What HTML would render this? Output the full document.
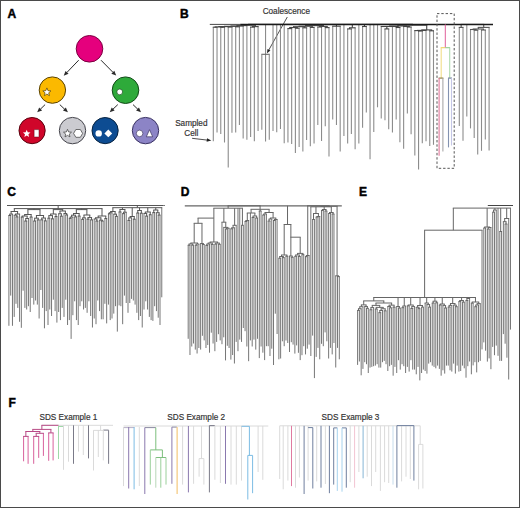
<!DOCTYPE html>
<html><head><meta charset="utf-8"><style>
html,body{margin:0;padding:0;background:#fff;}
body{width:520px;height:508px;overflow:hidden;}
svg{display:block;font-family:"Liberation Sans",sans-serif;}
</style></head><body>
<svg width="520" height="508" viewBox="0 0 520 508">
<rect x="0" y="0" width="520" height="508" fill="#fff"/>
<text x="7.5" y="17.5" font-size="12.0" font-weight="bold" text-anchor="start" fill="#000" stroke="#000" stroke-width="0.45">A</text>
<text x="179.9" y="17.5" font-size="12.0" font-weight="bold" text-anchor="start" fill="#000" stroke="#000" stroke-width="0.45">B</text>
<text x="7.3" y="196.4" font-size="12.0" font-weight="bold" text-anchor="start" fill="#000" stroke="#000" stroke-width="0.45">C</text>
<text x="180.7" y="196.4" font-size="12.0" font-weight="bold" text-anchor="start" fill="#000" stroke="#000" stroke-width="0.45">D</text>
<text x="358.9" y="196.4" font-size="12.0" font-weight="bold" text-anchor="start" fill="#000" stroke="#000" stroke-width="0.45">E</text>
<text x="8.5" y="407.2" font-size="12.0" font-weight="bold" text-anchor="start" fill="#000" stroke="#000" stroke-width="0.45">F</text>
<circle cx="89.5" cy="48.8" r="13.3" fill="#e5007d" stroke="#7a0040" stroke-width="1.0"/>
<circle cx="52.4" cy="90.1" r="13.2" fill="#fbb900" stroke="#5a4200" stroke-width="1.0"/>
<circle cx="125.5" cy="90.2" r="13.3" fill="#2eaa3a" stroke="#124a18" stroke-width="1.0"/>
<circle cx="32.1" cy="130.6" r="13.1" fill="#d0062a" stroke="#5a000c" stroke-width="1.0"/>
<circle cx="72.5" cy="130.6" r="13.2" fill="#cbcbd0" stroke="#45454c" stroke-width="1.0"/>
<circle cx="105.1" cy="130.6" r="13.1" fill="#0d4c92" stroke="#06223f" stroke-width="1.0"/>
<circle cx="145.5" cy="130.6" r="13.2" fill="#8c84c6" stroke="#3a3262" stroke-width="1.0"/>
<line x1="78.70" y1="60.20" x2="66.68" y2="72.70" stroke="#2a2a2a" stroke-width="1.0"/>
<polygon points="63.70,75.80 65.51,70.88 68.54,73.80" fill="#2a2a2a"/>
<line x1="101.00" y1="60.20" x2="113.18" y2="72.54" stroke="#2a2a2a" stroke-width="1.0"/>
<polygon points="116.20,75.60 111.33,73.66 114.32,70.71" fill="#2a2a2a"/>
<line x1="45.10" y1="104.60" x2="40.28" y2="109.30" stroke="#2a2a2a" stroke-width="1.0"/>
<polygon points="37.20,112.30 39.17,107.45 42.10,110.45" fill="#2a2a2a"/>
<line x1="59.80" y1="104.60" x2="64.78" y2="109.34" stroke="#2a2a2a" stroke-width="1.0"/>
<polygon points="67.90,112.30 62.97,110.51 65.87,107.47" fill="#2a2a2a"/>
<line x1="117.80" y1="104.60" x2="112.82" y2="109.34" stroke="#2a2a2a" stroke-width="1.0"/>
<polygon points="109.70,112.30 111.73,107.47 114.63,110.51" fill="#2a2a2a"/>
<line x1="133.00" y1="104.60" x2="137.90" y2="109.32" stroke="#2a2a2a" stroke-width="1.0"/>
<polygon points="141.00,112.30 136.09,110.48 139.00,107.46" fill="#2a2a2a"/>
<polygon points="46.90,87.90 48.02,90.66 50.99,90.87 48.71,92.79 49.43,95.68 46.90,94.10 44.37,95.68 45.09,92.79 42.81,90.87 45.78,90.66" fill="#fff" stroke="#5a4400" stroke-width="0.7" stroke-linejoin="round"/>
<circle cx="119.7" cy="91.9" r="2.9" fill="#fff" stroke="#124a18" stroke-width="0.7"/>
<polygon points="26.70,129.80 27.76,132.34 30.50,132.56 28.41,134.36 29.05,137.04 26.70,135.60 24.35,137.04 24.99,134.36 22.90,132.56 25.64,132.34" fill="#fff" stroke="none" stroke-width="0.7" stroke-linejoin="round"/>
<rect x="34.1" y="129.6" width="4.9" height="7.4" rx="0.6" fill="#fff" stroke="#5a0010" stroke-width="0.5"/>
<polygon points="67.50,129.30 68.62,131.96 71.49,132.20 69.31,134.09 69.97,136.90 67.50,135.40 65.03,136.90 65.69,134.09 63.51,132.20 66.38,131.96" fill="#fff" stroke="#444" stroke-width="0.75" stroke-linejoin="round"/>
<polygon points="82.60,133.40 80.35,137.30 75.85,137.30 73.60,133.40 75.85,129.50 80.35,129.50" fill="#fff" stroke="#444" stroke-width="0.75"/>
<circle cx="98.7" cy="133.4" r="3.2" fill="#fff" stroke="none" stroke-width="0"/>
<polygon points="108.3,129.5 112.2,133.4 108.3,137.3 104.4,133.4" fill="#fff"/>
<circle cx="139.6" cy="133.4" r="3.3" fill="#fff" stroke="#3a3260" stroke-width="0.7"/>
<polygon points="149.5,129.7 152.7,136.8 146.3,136.8" fill="#fff" stroke="#3a3260" stroke-width="0.7" stroke-linejoin="round"/>
<text x="286.3" y="14.1" font-size="8.2" font-weight="normal" text-anchor="middle" fill="#333" stroke="#333" stroke-width="0.18">Coalescence</text>
<text x="191.3" y="125.6" font-size="8.2" font-weight="normal" text-anchor="middle" fill="#333" stroke="#333" stroke-width="0.18">Sampled</text>
<text x="191.3" y="135.6" font-size="8.2" font-weight="normal" text-anchor="middle" fill="#333" stroke="#333" stroke-width="0.18">Cell</text>
<line x1="287.30" y1="17.00" x2="268.71" y2="50.15" stroke="#222" stroke-width="0.8"/>
<polygon points="267.00,53.20 267.47,48.88 270.44,50.54" fill="#222"/>
<line x1="192.10" y1="138.30" x2="207.33" y2="140.12" stroke="#222" stroke-width="0.8"/>
<polygon points="211.30,140.60 206.62,141.85 207.05,138.28" fill="#222"/>
<text x="68.4" y="420.4" font-size="8.2" font-weight="normal" text-anchor="middle" fill="#333" stroke="#333" stroke-width="0.18">SDS Example 1</text>
<text x="196.2" y="420.4" font-size="8.2" font-weight="normal" text-anchor="middle" fill="#333" stroke="#333" stroke-width="0.18">SDS Example 2</text>
<text x="350.5" y="420.4" font-size="8.2" font-weight="normal" text-anchor="middle" fill="#333" stroke="#333" stroke-width="0.18">SDS Example 3</text>
<line x1="213.30" y1="27.20" x2="213.30" y2="141.20" stroke="#8c8c8c" stroke-width="1.1"/>
<line x1="217.03" y1="27.20" x2="217.03" y2="132.50" stroke="#8c8c8c" stroke-width="1.1"/>
<line x1="212.75" y1="27.20" x2="217.58" y2="27.20" stroke="#444" stroke-width="1.1"/>
<line x1="215.17" y1="26.90" x2="215.17" y2="27.20" stroke="#444" stroke-width="1.1"/>
<line x1="220.76" y1="27.20" x2="220.76" y2="134.10" stroke="#8c8c8c" stroke-width="1.1"/>
<line x1="224.50" y1="27.20" x2="224.50" y2="142.50" stroke="#8c8c8c" stroke-width="1.1"/>
<line x1="220.21" y1="27.20" x2="225.05" y2="27.20" stroke="#444" stroke-width="1.1"/>
<line x1="222.63" y1="26.90" x2="222.63" y2="27.20" stroke="#444" stroke-width="1.1"/>
<line x1="214.62" y1="26.90" x2="223.18" y2="26.90" stroke="#444" stroke-width="1.1"/>
<line x1="218.90" y1="26.60" x2="218.90" y2="26.90" stroke="#444" stroke-width="1.1"/>
<line x1="228.23" y1="27.00" x2="228.23" y2="167.60" stroke="#8c8c8c" stroke-width="1.1"/>
<line x1="231.96" y1="27.00" x2="231.96" y2="132.70" stroke="#8c8c8c" stroke-width="1.1"/>
<line x1="227.68" y1="27.00" x2="232.51" y2="27.00" stroke="#444" stroke-width="1.1"/>
<line x1="230.09" y1="26.60" x2="230.09" y2="27.00" stroke="#444" stroke-width="1.1"/>
<line x1="218.35" y1="26.60" x2="230.64" y2="26.60" stroke="#444" stroke-width="1.1"/>
<line x1="224.50" y1="26.30" x2="224.50" y2="26.60" stroke="#444" stroke-width="1.1"/>
<line x1="235.69" y1="26.80" x2="235.69" y2="132.50" stroke="#8c8c8c" stroke-width="1.1"/>
<line x1="239.42" y1="26.80" x2="239.42" y2="124.90" stroke="#8c8c8c" stroke-width="1.1"/>
<line x1="235.14" y1="26.80" x2="239.97" y2="26.80" stroke="#444" stroke-width="1.1"/>
<line x1="237.56" y1="26.30" x2="237.56" y2="26.80" stroke="#444" stroke-width="1.1"/>
<line x1="223.95" y1="26.30" x2="238.11" y2="26.30" stroke="#444" stroke-width="1.1"/>
<line x1="231.03" y1="26.00" x2="231.03" y2="26.30" stroke="#444" stroke-width="1.1"/>
<line x1="243.16" y1="26.00" x2="243.16" y2="138.40" stroke="#8c8c8c" stroke-width="1.1"/>
<line x1="230.48" y1="26.00" x2="243.71" y2="26.00" stroke="#444" stroke-width="1.1"/>
<line x1="237.09" y1="25.60" x2="237.09" y2="26.00" stroke="#444" stroke-width="1.1"/>
<line x1="246.89" y1="25.60" x2="246.89" y2="139.70" stroke="#8c8c8c" stroke-width="1.1"/>
<line x1="236.54" y1="25.60" x2="247.44" y2="25.60" stroke="#444" stroke-width="1.1"/>
<line x1="241.99" y1="25.20" x2="241.99" y2="25.60" stroke="#444" stroke-width="1.1"/>
<line x1="250.62" y1="27.10" x2="250.62" y2="136.90" stroke="#8c8c8c" stroke-width="1.1"/>
<line x1="254.35" y1="27.10" x2="254.35" y2="141.30" stroke="#8c8c8c" stroke-width="1.1"/>
<line x1="250.07" y1="27.10" x2="254.90" y2="27.10" stroke="#444" stroke-width="1.1"/>
<line x1="252.49" y1="26.60" x2="252.49" y2="27.10" stroke="#444" stroke-width="1.1"/>
<line x1="258.08" y1="26.60" x2="258.08" y2="131.00" stroke="#8c8c8c" stroke-width="1.1"/>
<line x1="251.94" y1="26.60" x2="258.63" y2="26.60" stroke="#444" stroke-width="1.1"/>
<line x1="255.28" y1="25.20" x2="255.28" y2="26.60" stroke="#444" stroke-width="1.1"/>
<line x1="241.44" y1="25.20" x2="255.84" y2="25.20" stroke="#444" stroke-width="1.1"/>
<line x1="248.64" y1="24.40" x2="248.64" y2="25.20" stroke="#444" stroke-width="1.1"/>
<line x1="265.55" y1="24.40" x2="265.55" y2="141.60" stroke="#8c8c8c" stroke-width="1.1"/>
<line x1="273.01" y1="24.40" x2="273.01" y2="131.00" stroke="#8c8c8c" stroke-width="1.1"/>
<line x1="276.74" y1="24.40" x2="276.74" y2="132.20" stroke="#8c8c8c" stroke-width="1.1"/>
<line x1="280.48" y1="24.40" x2="280.48" y2="129.00" stroke="#8c8c8c" stroke-width="1.1"/>
<line x1="284.21" y1="24.40" x2="284.21" y2="143.30" stroke="#8c8c8c" stroke-width="1.1"/>
<line x1="287.94" y1="28.60" x2="287.94" y2="142.40" stroke="#8c8c8c" stroke-width="1.1"/>
<line x1="291.67" y1="28.60" x2="291.67" y2="144.00" stroke="#8c8c8c" stroke-width="1.1"/>
<line x1="287.39" y1="28.60" x2="292.22" y2="28.60" stroke="#444" stroke-width="1.1"/>
<line x1="289.81" y1="27.50" x2="289.81" y2="28.60" stroke="#444" stroke-width="1.1"/>
<line x1="295.40" y1="28.20" x2="295.40" y2="153.00" stroke="#8c8c8c" stroke-width="1.1"/>
<line x1="299.14" y1="28.20" x2="299.14" y2="146.90" stroke="#8c8c8c" stroke-width="1.1"/>
<line x1="294.85" y1="28.20" x2="299.69" y2="28.20" stroke="#444" stroke-width="1.1"/>
<line x1="297.27" y1="27.50" x2="297.27" y2="28.20" stroke="#444" stroke-width="1.1"/>
<line x1="289.26" y1="27.50" x2="297.82" y2="27.50" stroke="#444" stroke-width="1.1"/>
<line x1="293.54" y1="26.70" x2="293.54" y2="27.50" stroke="#444" stroke-width="1.1"/>
<line x1="302.87" y1="27.80" x2="302.87" y2="151.40" stroke="#8c8c8c" stroke-width="1.1"/>
<line x1="306.60" y1="27.80" x2="306.60" y2="140.00" stroke="#8c8c8c" stroke-width="1.1"/>
<line x1="302.32" y1="27.80" x2="307.15" y2="27.80" stroke="#444" stroke-width="1.1"/>
<line x1="304.73" y1="26.70" x2="304.73" y2="27.80" stroke="#444" stroke-width="1.1"/>
<line x1="292.99" y1="26.70" x2="305.28" y2="26.70" stroke="#444" stroke-width="1.1"/>
<line x1="299.14" y1="26.20" x2="299.14" y2="26.70" stroke="#444" stroke-width="1.1"/>
<line x1="310.33" y1="27.40" x2="310.33" y2="146.30" stroke="#8c8c8c" stroke-width="1.1"/>
<line x1="314.06" y1="27.40" x2="314.06" y2="143.40" stroke="#8c8c8c" stroke-width="1.1"/>
<line x1="309.78" y1="27.40" x2="314.61" y2="27.40" stroke="#444" stroke-width="1.1"/>
<line x1="312.20" y1="26.20" x2="312.20" y2="27.40" stroke="#444" stroke-width="1.1"/>
<line x1="298.59" y1="26.20" x2="312.75" y2="26.20" stroke="#444" stroke-width="1.1"/>
<line x1="305.67" y1="25.60" x2="305.67" y2="26.20" stroke="#444" stroke-width="1.1"/>
<line x1="317.80" y1="27.00" x2="317.80" y2="125.00" stroke="#8c8c8c" stroke-width="1.1"/>
<line x1="321.53" y1="27.00" x2="321.53" y2="141.00" stroke="#8c8c8c" stroke-width="1.1"/>
<line x1="317.25" y1="27.00" x2="322.08" y2="27.00" stroke="#444" stroke-width="1.1"/>
<line x1="319.66" y1="26.40" x2="319.66" y2="27.00" stroke="#444" stroke-width="1.1"/>
<line x1="325.26" y1="27.60" x2="325.26" y2="126.20" stroke="#8c8c8c" stroke-width="1.1"/>
<line x1="328.99" y1="27.60" x2="328.99" y2="156.60" stroke="#8c8c8c" stroke-width="1.1"/>
<line x1="324.71" y1="27.60" x2="329.54" y2="27.60" stroke="#444" stroke-width="1.1"/>
<line x1="327.13" y1="26.40" x2="327.13" y2="27.60" stroke="#444" stroke-width="1.1"/>
<line x1="319.11" y1="26.40" x2="327.68" y2="26.40" stroke="#444" stroke-width="1.1"/>
<line x1="323.39" y1="25.60" x2="323.39" y2="26.40" stroke="#444" stroke-width="1.1"/>
<line x1="305.12" y1="25.60" x2="323.94" y2="25.60" stroke="#444" stroke-width="1.1"/>
<line x1="314.53" y1="24.40" x2="314.53" y2="25.60" stroke="#444" stroke-width="1.1"/>
<line x1="332.72" y1="26.20" x2="332.72" y2="119.50" stroke="#8c8c8c" stroke-width="1.1"/>
<line x1="336.46" y1="26.20" x2="336.46" y2="125.00" stroke="#8c8c8c" stroke-width="1.1"/>
<line x1="340.19" y1="26.20" x2="340.19" y2="151.40" stroke="#8c8c8c" stroke-width="1.1"/>
<line x1="332.17" y1="26.20" x2="340.74" y2="26.20" stroke="#444" stroke-width="1.1"/>
<line x1="336.46" y1="24.40" x2="336.46" y2="26.20" stroke="#444" stroke-width="1.1"/>
<line x1="343.92" y1="24.40" x2="343.92" y2="136.00" stroke="#8c8c8c" stroke-width="1.1"/>
<line x1="347.65" y1="28.90" x2="347.65" y2="143.40" stroke="#8c8c8c" stroke-width="1.1"/>
<line x1="351.38" y1="28.90" x2="351.38" y2="134.10" stroke="#8c8c8c" stroke-width="1.1"/>
<line x1="347.10" y1="28.90" x2="351.93" y2="28.90" stroke="#444" stroke-width="1.1"/>
<line x1="349.52" y1="27.80" x2="349.52" y2="28.90" stroke="#444" stroke-width="1.1"/>
<line x1="355.12" y1="27.80" x2="355.12" y2="149.30" stroke="#8c8c8c" stroke-width="1.1"/>
<line x1="348.97" y1="27.80" x2="355.67" y2="27.80" stroke="#444" stroke-width="1.1"/>
<line x1="352.32" y1="24.40" x2="352.32" y2="27.80" stroke="#444" stroke-width="1.1"/>
<line x1="358.85" y1="24.40" x2="358.85" y2="143.60" stroke="#8c8c8c" stroke-width="1.1"/>
<line x1="362.58" y1="26.50" x2="362.58" y2="127.80" stroke="#8c8c8c" stroke-width="1.1"/>
<line x1="366.31" y1="26.50" x2="366.31" y2="112.60" stroke="#8c8c8c" stroke-width="1.1"/>
<line x1="362.03" y1="26.50" x2="366.86" y2="26.50" stroke="#444" stroke-width="1.1"/>
<line x1="364.45" y1="24.40" x2="364.45" y2="26.50" stroke="#444" stroke-width="1.1"/>
<line x1="370.04" y1="24.40" x2="370.04" y2="159.30" stroke="#8c8c8c" stroke-width="1.1"/>
<line x1="373.78" y1="24.40" x2="373.78" y2="132.10" stroke="#8c8c8c" stroke-width="1.1"/>
<line x1="377.51" y1="24.40" x2="377.51" y2="107.30" stroke="#8c8c8c" stroke-width="1.1"/>
<line x1="381.24" y1="26.50" x2="381.24" y2="118.50" stroke="#8c8c8c" stroke-width="1.1"/>
<line x1="384.97" y1="28.90" x2="384.97" y2="120.30" stroke="#8c8c8c" stroke-width="1.1"/>
<line x1="388.70" y1="28.90" x2="388.70" y2="129.20" stroke="#8c8c8c" stroke-width="1.1"/>
<line x1="384.42" y1="28.90" x2="389.25" y2="28.90" stroke="#444" stroke-width="1.1"/>
<line x1="386.84" y1="26.50" x2="386.84" y2="28.90" stroke="#444" stroke-width="1.1"/>
<line x1="392.44" y1="26.50" x2="392.44" y2="132.60" stroke="#8c8c8c" stroke-width="1.1"/>
<line x1="396.17" y1="27.50" x2="396.17" y2="119.50" stroke="#8c8c8c" stroke-width="1.1"/>
<line x1="399.90" y1="27.50" x2="399.90" y2="142.30" stroke="#8c8c8c" stroke-width="1.1"/>
<line x1="395.62" y1="27.50" x2="400.45" y2="27.50" stroke="#444" stroke-width="1.1"/>
<line x1="398.03" y1="26.50" x2="398.03" y2="27.50" stroke="#444" stroke-width="1.1"/>
<line x1="380.69" y1="26.50" x2="398.58" y2="26.50" stroke="#444" stroke-width="1.1"/>
<line x1="389.64" y1="26.00" x2="389.64" y2="26.50" stroke="#444" stroke-width="1.1"/>
<line x1="403.63" y1="26.50" x2="403.63" y2="148.70" stroke="#8c8c8c" stroke-width="1.1"/>
<line x1="407.36" y1="27.00" x2="407.36" y2="113.60" stroke="#8c8c8c" stroke-width="1.1"/>
<line x1="411.10" y1="27.00" x2="411.10" y2="134.30" stroke="#8c8c8c" stroke-width="1.1"/>
<line x1="406.81" y1="27.00" x2="411.65" y2="27.00" stroke="#444" stroke-width="1.1"/>
<line x1="409.23" y1="26.50" x2="409.23" y2="27.00" stroke="#444" stroke-width="1.1"/>
<line x1="403.08" y1="26.50" x2="409.78" y2="26.50" stroke="#444" stroke-width="1.1"/>
<line x1="406.43" y1="26.00" x2="406.43" y2="26.50" stroke="#444" stroke-width="1.1"/>
<line x1="389.09" y1="26.00" x2="406.98" y2="26.00" stroke="#444" stroke-width="1.1"/>
<line x1="398.03" y1="25.20" x2="398.03" y2="26.00" stroke="#444" stroke-width="1.1"/>
<line x1="414.83" y1="30.60" x2="414.83" y2="155.60" stroke="#8c8c8c" stroke-width="1.1"/>
<line x1="418.56" y1="31.00" x2="418.56" y2="169.40" stroke="#8c8c8c" stroke-width="1.1"/>
<line x1="422.29" y1="31.00" x2="422.29" y2="143.20" stroke="#8c8c8c" stroke-width="1.1"/>
<line x1="418.01" y1="31.00" x2="422.84" y2="31.00" stroke="#444" stroke-width="1.1"/>
<line x1="420.43" y1="30.60" x2="420.43" y2="31.00" stroke="#444" stroke-width="1.1"/>
<line x1="414.28" y1="30.60" x2="420.98" y2="30.60" stroke="#444" stroke-width="1.1"/>
<line x1="417.63" y1="30.40" x2="417.63" y2="30.60" stroke="#444" stroke-width="1.1"/>
<line x1="426.02" y1="30.40" x2="426.02" y2="141.30" stroke="#8c8c8c" stroke-width="1.1"/>
<line x1="417.08" y1="30.40" x2="426.57" y2="30.40" stroke="#444" stroke-width="1.1"/>
<line x1="421.83" y1="29.90" x2="421.83" y2="30.40" stroke="#444" stroke-width="1.1"/>
<line x1="429.76" y1="30.80" x2="429.76" y2="146.00" stroke="#8c8c8c" stroke-width="1.1"/>
<line x1="433.49" y1="30.80" x2="433.49" y2="144.80" stroke="#8c8c8c" stroke-width="1.1"/>
<line x1="429.21" y1="30.80" x2="434.04" y2="30.80" stroke="#444" stroke-width="1.1"/>
<line x1="431.62" y1="29.90" x2="431.62" y2="30.80" stroke="#444" stroke-width="1.1"/>
<line x1="421.28" y1="29.90" x2="432.17" y2="29.90" stroke="#444" stroke-width="1.1"/>
<line x1="426.72" y1="25.20" x2="426.72" y2="29.90" stroke="#444" stroke-width="1.1"/>
<line x1="397.48" y1="25.20" x2="427.27" y2="25.20" stroke="#444" stroke-width="1.1"/>
<line x1="412.38" y1="24.40" x2="412.38" y2="25.20" stroke="#444" stroke-width="1.1"/>
<line x1="248.09" y1="24.40" x2="412.93" y2="24.40" stroke="#444" stroke-width="1.1"/>
<line x1="261.32" y1="54.30" x2="269.78" y2="54.30" stroke="#666" stroke-width="1.1"/>
<line x1="261.82" y1="54.30" x2="261.82" y2="129.80" stroke="#8c8c8c" stroke-width="1.1"/>
<line x1="269.28" y1="54.30" x2="269.28" y2="139.80" stroke="#8c8c8c" stroke-width="1.1"/>
<line x1="459.30" y1="27.40" x2="459.30" y2="126.00" stroke="#8c8c8c" stroke-width="1.1"/>
<line x1="463.00" y1="27.40" x2="463.00" y2="140.80" stroke="#8c8c8c" stroke-width="1.1"/>
<line x1="458.75" y1="27.40" x2="463.55" y2="27.40" stroke="#555" stroke-width="1.1"/>
<line x1="461.15" y1="24.40" x2="461.15" y2="27.40" stroke="#555" stroke-width="1.1"/>
<line x1="466.80" y1="24.40" x2="466.80" y2="116.50" stroke="#8c8c8c" stroke-width="1.1"/>
<line x1="470.50" y1="29.50" x2="470.50" y2="128.40" stroke="#8c8c8c" stroke-width="1.1"/>
<line x1="474.20" y1="30.20" x2="474.20" y2="138.10" stroke="#8c8c8c" stroke-width="1.1"/>
<line x1="477.70" y1="30.20" x2="477.70" y2="154.60" stroke="#8c8c8c" stroke-width="1.1"/>
<line x1="473.65" y1="30.20" x2="478.25" y2="30.20" stroke="#555" stroke-width="1.1"/>
<line x1="475.95" y1="29.50" x2="475.95" y2="30.20" stroke="#555" stroke-width="1.1"/>
<line x1="469.95" y1="29.50" x2="476.50" y2="29.50" stroke="#555" stroke-width="1.1"/>
<line x1="473.23" y1="29.00" x2="473.23" y2="29.50" stroke="#555" stroke-width="1.1"/>
<line x1="481.50" y1="30.00" x2="481.50" y2="150.80" stroke="#8c8c8c" stroke-width="1.1"/>
<line x1="485.30" y1="30.00" x2="485.30" y2="139.60" stroke="#8c8c8c" stroke-width="1.1"/>
<line x1="480.95" y1="30.00" x2="485.85" y2="30.00" stroke="#555" stroke-width="1.1"/>
<line x1="483.40" y1="29.00" x2="483.40" y2="30.00" stroke="#555" stroke-width="1.1"/>
<line x1="472.68" y1="29.00" x2="483.95" y2="29.00" stroke="#555" stroke-width="1.1"/>
<line x1="478.31" y1="27.40" x2="478.31" y2="29.00" stroke="#555" stroke-width="1.1"/>
<line x1="489.10" y1="27.40" x2="489.10" y2="150.60" stroke="#8c8c8c" stroke-width="1.1"/>
<line x1="477.76" y1="27.40" x2="489.65" y2="27.40" stroke="#555" stroke-width="1.1"/>
<line x1="483.71" y1="24.40" x2="483.71" y2="27.40" stroke="#555" stroke-width="1.1"/>
<line x1="460.60" y1="24.40" x2="484.26" y2="24.40" stroke="#555" stroke-width="1.1"/>
<line x1="209.80" y1="24.40" x2="241.00" y2="24.40" stroke="#333" stroke-width="0.9"/>
<line x1="240.50" y1="24.50" x2="493.00" y2="24.50" stroke="#1a1a1a" stroke-width="1.4"/>
<line x1="445.30" y1="24.40" x2="445.30" y2="47.70" stroke="#e0609a" stroke-width="1.0"/>
<line x1="440.70" y1="47.70" x2="445.30" y2="47.70" stroke="#f0d060" stroke-width="1.1"/>
<line x1="445.30" y1="47.70" x2="450.10" y2="47.70" stroke="#90cc90" stroke-width="1.1"/>
<line x1="441.20" y1="47.70" x2="441.20" y2="78.10" stroke="#f2de88" stroke-width="1.1"/>
<line x1="449.70" y1="47.70" x2="449.70" y2="78.10" stroke="#b0dcb0" stroke-width="1.1"/>
<line x1="438.60" y1="78.10" x2="443.40" y2="78.10" stroke="#8a7a40" stroke-width="1.1"/>
<line x1="448.00" y1="78.10" x2="452.00" y2="78.10" stroke="#6a7a90" stroke-width="1.1"/>
<line x1="439.10" y1="78.10" x2="439.10" y2="155.80" stroke="#e0789a" stroke-width="1.1"/>
<line x1="442.90" y1="78.10" x2="442.90" y2="151.40" stroke="#a8a8a8" stroke-width="1.1"/>
<line x1="448.50" y1="78.10" x2="448.50" y2="147.40" stroke="#8392b0" stroke-width="1.1"/>
<line x1="451.50" y1="78.10" x2="451.50" y2="145.50" stroke="#c4c6e6" stroke-width="1.1"/>
<rect x="437.0" y="13.6" width="17.2" height="154.7" fill="none" stroke="#555" stroke-width="1" stroke-dasharray="2.4 1.9"/>
<line x1="7.00" y1="205.50" x2="163.50" y2="205.50" stroke="#555" stroke-width="1.0"/>
<line x1="163.50" y1="205.50" x2="164.80" y2="205.50" stroke="#555" stroke-width="1.0"/>
<line x1="8.90" y1="215.49" x2="8.90" y2="325.80" stroke="#767676" stroke-width="1.0"/>
<line x1="10.68" y1="215.49" x2="10.68" y2="295.60" stroke="#767676" stroke-width="1.0"/>
<line x1="8.40" y1="215.49" x2="11.18" y2="215.49" stroke="#555" stroke-width="1.0"/>
<line x1="9.79" y1="214.07" x2="9.79" y2="215.49" stroke="#555" stroke-width="1.0"/>
<line x1="12.46" y1="214.07" x2="12.46" y2="325.80" stroke="#767676" stroke-width="1.0"/>
<line x1="9.29" y1="214.07" x2="12.96" y2="214.07" stroke="#555" stroke-width="1.0"/>
<line x1="11.12" y1="211.50" x2="11.12" y2="214.07" stroke="#555" stroke-width="1.0"/>
<line x1="14.23" y1="215.15" x2="14.23" y2="316.90" stroke="#767676" stroke-width="1.0"/>
<line x1="16.01" y1="216.86" x2="16.01" y2="303.80" stroke="#767676" stroke-width="1.0"/>
<line x1="17.79" y1="216.86" x2="17.79" y2="307.90" stroke="#767676" stroke-width="1.0"/>
<line x1="15.51" y1="216.86" x2="18.29" y2="216.86" stroke="#555" stroke-width="1.0"/>
<line x1="16.90" y1="215.15" x2="16.90" y2="216.86" stroke="#555" stroke-width="1.0"/>
<line x1="13.73" y1="215.15" x2="17.40" y2="215.15" stroke="#555" stroke-width="1.0"/>
<line x1="15.57" y1="214.01" x2="15.57" y2="215.15" stroke="#555" stroke-width="1.0"/>
<line x1="19.57" y1="214.01" x2="19.57" y2="321.80" stroke="#767676" stroke-width="1.0"/>
<line x1="15.07" y1="214.01" x2="20.07" y2="214.01" stroke="#555" stroke-width="1.0"/>
<line x1="17.57" y1="211.50" x2="17.57" y2="214.01" stroke="#555" stroke-width="1.0"/>
<line x1="10.62" y1="211.50" x2="18.07" y2="211.50" stroke="#555" stroke-width="1.0"/>
<line x1="14.34" y1="208.60" x2="14.34" y2="211.50" stroke="#555" stroke-width="1.0"/>
<line x1="21.34" y1="217.09" x2="21.34" y2="327.80" stroke="#767676" stroke-width="1.0"/>
<line x1="23.12" y1="217.09" x2="23.12" y2="290.70" stroke="#767676" stroke-width="1.0"/>
<line x1="20.84" y1="217.09" x2="23.62" y2="217.09" stroke="#555" stroke-width="1.0"/>
<line x1="22.23" y1="216.02" x2="22.23" y2="217.09" stroke="#555" stroke-width="1.0"/>
<line x1="24.90" y1="221.00" x2="24.90" y2="307.90" stroke="#767676" stroke-width="1.0"/>
<line x1="26.68" y1="221.00" x2="26.68" y2="309.50" stroke="#767676" stroke-width="1.0"/>
<line x1="24.40" y1="221.00" x2="27.18" y2="221.00" stroke="#555" stroke-width="1.0"/>
<line x1="25.79" y1="218.53" x2="25.79" y2="221.00" stroke="#555" stroke-width="1.0"/>
<line x1="28.45" y1="218.53" x2="28.45" y2="306.20" stroke="#767676" stroke-width="1.0"/>
<line x1="25.29" y1="218.53" x2="28.95" y2="218.53" stroke="#555" stroke-width="1.0"/>
<line x1="27.12" y1="216.02" x2="27.12" y2="218.53" stroke="#555" stroke-width="1.0"/>
<line x1="21.73" y1="216.02" x2="27.62" y2="216.02" stroke="#555" stroke-width="1.0"/>
<line x1="24.68" y1="214.50" x2="24.68" y2="216.02" stroke="#555" stroke-width="1.0"/>
<line x1="30.23" y1="217.02" x2="30.23" y2="312.00" stroke="#767676" stroke-width="1.0"/>
<line x1="32.01" y1="217.02" x2="32.01" y2="298.00" stroke="#767676" stroke-width="1.0"/>
<line x1="29.73" y1="217.02" x2="32.51" y2="217.02" stroke="#555" stroke-width="1.0"/>
<line x1="31.12" y1="214.50" x2="31.12" y2="217.02" stroke="#555" stroke-width="1.0"/>
<line x1="24.18" y1="214.50" x2="31.62" y2="214.50" stroke="#555" stroke-width="1.0"/>
<line x1="27.90" y1="209.60" x2="27.90" y2="214.50" stroke="#555" stroke-width="1.0"/>
<line x1="33.79" y1="221.00" x2="33.79" y2="304.60" stroke="#767676" stroke-width="1.0"/>
<line x1="35.56" y1="221.00" x2="35.56" y2="300.50" stroke="#767676" stroke-width="1.0"/>
<line x1="33.29" y1="221.00" x2="36.06" y2="221.00" stroke="#555" stroke-width="1.0"/>
<line x1="34.68" y1="218.16" x2="34.68" y2="221.00" stroke="#555" stroke-width="1.0"/>
<line x1="37.34" y1="219.92" x2="37.34" y2="304.60" stroke="#767676" stroke-width="1.0"/>
<line x1="39.12" y1="219.92" x2="39.12" y2="318.50" stroke="#767676" stroke-width="1.0"/>
<line x1="36.84" y1="219.92" x2="39.62" y2="219.92" stroke="#555" stroke-width="1.0"/>
<line x1="38.23" y1="218.16" x2="38.23" y2="219.92" stroke="#555" stroke-width="1.0"/>
<line x1="34.18" y1="218.16" x2="38.73" y2="218.16" stroke="#555" stroke-width="1.0"/>
<line x1="36.45" y1="215.50" x2="36.45" y2="218.16" stroke="#555" stroke-width="1.0"/>
<line x1="40.90" y1="219.82" x2="40.90" y2="290.00" stroke="#767676" stroke-width="1.0"/>
<line x1="42.67" y1="219.82" x2="42.67" y2="307.90" stroke="#767676" stroke-width="1.0"/>
<line x1="40.40" y1="219.82" x2="43.17" y2="219.82" stroke="#555" stroke-width="1.0"/>
<line x1="41.79" y1="218.03" x2="41.79" y2="219.82" stroke="#555" stroke-width="1.0"/>
<line x1="44.45" y1="220.86" x2="44.45" y2="328.30" stroke="#767676" stroke-width="1.0"/>
<line x1="46.23" y1="220.86" x2="46.23" y2="311.10" stroke="#767676" stroke-width="1.0"/>
<line x1="43.95" y1="220.86" x2="46.73" y2="220.86" stroke="#555" stroke-width="1.0"/>
<line x1="45.34" y1="218.03" x2="45.34" y2="220.86" stroke="#555" stroke-width="1.0"/>
<line x1="41.29" y1="218.03" x2="45.84" y2="218.03" stroke="#555" stroke-width="1.0"/>
<line x1="43.56" y1="215.50" x2="43.56" y2="218.03" stroke="#555" stroke-width="1.0"/>
<line x1="35.95" y1="215.50" x2="44.06" y2="215.50" stroke="#555" stroke-width="1.0"/>
<line x1="40.01" y1="209.60" x2="40.01" y2="215.50" stroke="#555" stroke-width="1.0"/>
<line x1="27.40" y1="209.60" x2="40.51" y2="209.60" stroke="#555" stroke-width="1.0"/>
<line x1="33.95" y1="208.60" x2="33.95" y2="209.60" stroke="#555" stroke-width="1.0"/>
<line x1="48.01" y1="218.18" x2="48.01" y2="325.00" stroke="#767676" stroke-width="1.0"/>
<line x1="49.78" y1="218.18" x2="49.78" y2="309.50" stroke="#767676" stroke-width="1.0"/>
<line x1="47.51" y1="218.18" x2="50.28" y2="218.18" stroke="#555" stroke-width="1.0"/>
<line x1="48.90" y1="215.61" x2="48.90" y2="218.18" stroke="#555" stroke-width="1.0"/>
<line x1="51.56" y1="218.80" x2="51.56" y2="316.00" stroke="#767676" stroke-width="1.0"/>
<line x1="53.34" y1="218.80" x2="53.34" y2="299.70" stroke="#767676" stroke-width="1.0"/>
<line x1="51.06" y1="218.80" x2="53.84" y2="218.80" stroke="#555" stroke-width="1.0"/>
<line x1="52.45" y1="215.61" x2="52.45" y2="218.80" stroke="#555" stroke-width="1.0"/>
<line x1="48.40" y1="215.61" x2="52.95" y2="215.61" stroke="#555" stroke-width="1.0"/>
<line x1="50.67" y1="214.00" x2="50.67" y2="215.61" stroke="#555" stroke-width="1.0"/>
<line x1="55.12" y1="216.54" x2="55.12" y2="311.10" stroke="#767676" stroke-width="1.0"/>
<line x1="56.90" y1="216.54" x2="56.90" y2="322.60" stroke="#767676" stroke-width="1.0"/>
<line x1="54.62" y1="216.54" x2="57.40" y2="216.54" stroke="#555" stroke-width="1.0"/>
<line x1="56.01" y1="214.00" x2="56.01" y2="216.54" stroke="#555" stroke-width="1.0"/>
<line x1="50.17" y1="214.00" x2="56.51" y2="214.00" stroke="#555" stroke-width="1.0"/>
<line x1="53.34" y1="209.60" x2="53.34" y2="214.00" stroke="#555" stroke-width="1.0"/>
<line x1="58.67" y1="213.75" x2="58.67" y2="312.00" stroke="#767676" stroke-width="1.0"/>
<line x1="60.45" y1="216.19" x2="60.45" y2="320.10" stroke="#767676" stroke-width="1.0"/>
<line x1="62.23" y1="216.19" x2="62.23" y2="307.90" stroke="#767676" stroke-width="1.0"/>
<line x1="59.95" y1="216.19" x2="62.73" y2="216.19" stroke="#555" stroke-width="1.0"/>
<line x1="61.34" y1="213.75" x2="61.34" y2="216.19" stroke="#555" stroke-width="1.0"/>
<line x1="58.17" y1="213.75" x2="61.84" y2="213.75" stroke="#555" stroke-width="1.0"/>
<line x1="60.01" y1="211.00" x2="60.01" y2="213.75" stroke="#555" stroke-width="1.0"/>
<line x1="64.01" y1="213.55" x2="64.01" y2="316.90" stroke="#767676" stroke-width="1.0"/>
<line x1="65.78" y1="214.95" x2="65.78" y2="299.70" stroke="#767676" stroke-width="1.0"/>
<line x1="67.56" y1="214.95" x2="67.56" y2="325.00" stroke="#767676" stroke-width="1.0"/>
<line x1="65.28" y1="214.95" x2="68.06" y2="214.95" stroke="#555" stroke-width="1.0"/>
<line x1="66.67" y1="213.55" x2="66.67" y2="214.95" stroke="#555" stroke-width="1.0"/>
<line x1="63.51" y1="213.55" x2="67.17" y2="213.55" stroke="#555" stroke-width="1.0"/>
<line x1="65.34" y1="211.00" x2="65.34" y2="213.55" stroke="#555" stroke-width="1.0"/>
<line x1="59.51" y1="211.00" x2="65.84" y2="211.00" stroke="#555" stroke-width="1.0"/>
<line x1="62.67" y1="209.60" x2="62.67" y2="211.00" stroke="#555" stroke-width="1.0"/>
<line x1="52.84" y1="209.60" x2="63.17" y2="209.60" stroke="#555" stroke-width="1.0"/>
<line x1="58.01" y1="208.60" x2="58.01" y2="209.60" stroke="#555" stroke-width="1.0"/>
<line x1="69.34" y1="218.33" x2="69.34" y2="320.10" stroke="#767676" stroke-width="1.0"/>
<line x1="71.12" y1="218.33" x2="71.12" y2="338.90" stroke="#767676" stroke-width="1.0"/>
<line x1="68.84" y1="218.33" x2="71.62" y2="218.33" stroke="#555" stroke-width="1.0"/>
<line x1="70.23" y1="217.07" x2="70.23" y2="218.33" stroke="#555" stroke-width="1.0"/>
<line x1="72.89" y1="217.07" x2="72.89" y2="315.20" stroke="#767676" stroke-width="1.0"/>
<line x1="69.73" y1="217.07" x2="73.39" y2="217.07" stroke="#555" stroke-width="1.0"/>
<line x1="71.56" y1="215.20" x2="71.56" y2="217.07" stroke="#555" stroke-width="1.0"/>
<line x1="74.67" y1="216.88" x2="74.67" y2="301.30" stroke="#767676" stroke-width="1.0"/>
<line x1="76.45" y1="216.88" x2="76.45" y2="320.10" stroke="#767676" stroke-width="1.0"/>
<line x1="74.17" y1="216.88" x2="76.95" y2="216.88" stroke="#555" stroke-width="1.0"/>
<line x1="75.56" y1="215.20" x2="75.56" y2="216.88" stroke="#555" stroke-width="1.0"/>
<line x1="71.06" y1="215.20" x2="76.06" y2="215.20" stroke="#555" stroke-width="1.0"/>
<line x1="73.56" y1="213.50" x2="73.56" y2="215.20" stroke="#555" stroke-width="1.0"/>
<line x1="78.23" y1="216.06" x2="78.23" y2="325.00" stroke="#767676" stroke-width="1.0"/>
<line x1="80.00" y1="216.06" x2="80.00" y2="306.20" stroke="#767676" stroke-width="1.0"/>
<line x1="77.73" y1="216.06" x2="80.50" y2="216.06" stroke="#555" stroke-width="1.0"/>
<line x1="79.12" y1="213.50" x2="79.12" y2="216.06" stroke="#555" stroke-width="1.0"/>
<line x1="73.06" y1="213.50" x2="79.62" y2="213.50" stroke="#555" stroke-width="1.0"/>
<line x1="76.34" y1="209.60" x2="76.34" y2="213.50" stroke="#555" stroke-width="1.0"/>
<line x1="81.78" y1="219.37" x2="81.78" y2="301.30" stroke="#767676" stroke-width="1.0"/>
<line x1="83.56" y1="219.37" x2="83.56" y2="309.50" stroke="#767676" stroke-width="1.0"/>
<line x1="81.28" y1="219.37" x2="84.06" y2="219.37" stroke="#555" stroke-width="1.0"/>
<line x1="82.67" y1="217.84" x2="82.67" y2="219.37" stroke="#555" stroke-width="1.0"/>
<line x1="85.34" y1="217.84" x2="85.34" y2="307.90" stroke="#767676" stroke-width="1.0"/>
<line x1="82.17" y1="217.84" x2="85.84" y2="217.84" stroke="#555" stroke-width="1.0"/>
<line x1="84.00" y1="215.00" x2="84.00" y2="217.84" stroke="#555" stroke-width="1.0"/>
<line x1="87.11" y1="219.16" x2="87.11" y2="312.80" stroke="#767676" stroke-width="1.0"/>
<line x1="88.89" y1="219.16" x2="88.89" y2="301.30" stroke="#767676" stroke-width="1.0"/>
<line x1="86.61" y1="219.16" x2="89.39" y2="219.16" stroke="#555" stroke-width="1.0"/>
<line x1="88.00" y1="217.57" x2="88.00" y2="219.16" stroke="#555" stroke-width="1.0"/>
<line x1="90.67" y1="219.89" x2="90.67" y2="316.00" stroke="#767676" stroke-width="1.0"/>
<line x1="92.45" y1="219.89" x2="92.45" y2="327.50" stroke="#767676" stroke-width="1.0"/>
<line x1="90.17" y1="219.89" x2="92.95" y2="219.89" stroke="#555" stroke-width="1.0"/>
<line x1="91.56" y1="217.57" x2="91.56" y2="219.89" stroke="#555" stroke-width="1.0"/>
<line x1="87.50" y1="217.57" x2="92.06" y2="217.57" stroke="#555" stroke-width="1.0"/>
<line x1="89.78" y1="215.00" x2="89.78" y2="217.57" stroke="#555" stroke-width="1.0"/>
<line x1="83.50" y1="215.00" x2="90.28" y2="215.00" stroke="#555" stroke-width="1.0"/>
<line x1="86.89" y1="209.60" x2="86.89" y2="215.00" stroke="#555" stroke-width="1.0"/>
<line x1="75.84" y1="209.60" x2="87.39" y2="209.60" stroke="#555" stroke-width="1.0"/>
<line x1="81.61" y1="208.60" x2="81.61" y2="209.60" stroke="#555" stroke-width="1.0"/>
<line x1="94.22" y1="218.96" x2="94.22" y2="318.50" stroke="#767676" stroke-width="1.0"/>
<line x1="96.00" y1="221.00" x2="96.00" y2="324.20" stroke="#767676" stroke-width="1.0"/>
<line x1="97.78" y1="221.00" x2="97.78" y2="300.50" stroke="#767676" stroke-width="1.0"/>
<line x1="95.50" y1="221.00" x2="98.28" y2="221.00" stroke="#555" stroke-width="1.0"/>
<line x1="96.89" y1="218.96" x2="96.89" y2="221.00" stroke="#555" stroke-width="1.0"/>
<line x1="93.72" y1="218.96" x2="97.39" y2="218.96" stroke="#555" stroke-width="1.0"/>
<line x1="95.56" y1="217.79" x2="95.56" y2="218.96" stroke="#555" stroke-width="1.0"/>
<line x1="99.56" y1="220.15" x2="99.56" y2="311.10" stroke="#767676" stroke-width="1.0"/>
<line x1="101.34" y1="221.00" x2="101.34" y2="319.30" stroke="#767676" stroke-width="1.0"/>
<line x1="103.11" y1="221.00" x2="103.11" y2="319.30" stroke="#767676" stroke-width="1.0"/>
<line x1="100.84" y1="221.00" x2="103.61" y2="221.00" stroke="#555" stroke-width="1.0"/>
<line x1="102.22" y1="220.15" x2="102.22" y2="221.00" stroke="#555" stroke-width="1.0"/>
<line x1="99.06" y1="220.15" x2="102.72" y2="220.15" stroke="#555" stroke-width="1.0"/>
<line x1="100.89" y1="217.79" x2="100.89" y2="220.15" stroke="#555" stroke-width="1.0"/>
<line x1="95.06" y1="217.79" x2="101.39" y2="217.79" stroke="#555" stroke-width="1.0"/>
<line x1="98.22" y1="216.00" x2="98.22" y2="217.79" stroke="#555" stroke-width="1.0"/>
<line x1="104.89" y1="218.57" x2="104.89" y2="303.80" stroke="#767676" stroke-width="1.0"/>
<line x1="106.67" y1="218.57" x2="106.67" y2="323.40" stroke="#767676" stroke-width="1.0"/>
<line x1="104.39" y1="218.57" x2="107.17" y2="218.57" stroke="#555" stroke-width="1.0"/>
<line x1="105.78" y1="216.00" x2="105.78" y2="218.57" stroke="#555" stroke-width="1.0"/>
<line x1="97.72" y1="216.00" x2="106.28" y2="216.00" stroke="#555" stroke-width="1.0"/>
<line x1="102.00" y1="208.60" x2="102.00" y2="216.00" stroke="#555" stroke-width="1.0"/>
<line x1="13.84" y1="208.60" x2="102.50" y2="208.60" stroke="#555" stroke-width="1.0"/>
<line x1="58.17" y1="205.50" x2="58.17" y2="208.60" stroke="#555" stroke-width="1.0"/>
<line x1="108.45" y1="213.80" x2="108.45" y2="304.60" stroke="#767676" stroke-width="1.0"/>
<line x1="110.22" y1="213.80" x2="110.22" y2="320.10" stroke="#767676" stroke-width="1.0"/>
<line x1="107.95" y1="213.80" x2="110.72" y2="213.80" stroke="#555" stroke-width="1.0"/>
<line x1="109.33" y1="212.78" x2="109.33" y2="213.80" stroke="#555" stroke-width="1.0"/>
<line x1="112.00" y1="212.78" x2="112.00" y2="318.50" stroke="#767676" stroke-width="1.0"/>
<line x1="108.83" y1="212.78" x2="112.50" y2="212.78" stroke="#555" stroke-width="1.0"/>
<line x1="110.67" y1="211.50" x2="110.67" y2="212.78" stroke="#555" stroke-width="1.0"/>
<line x1="113.78" y1="214.18" x2="113.78" y2="313.60" stroke="#767676" stroke-width="1.0"/>
<line x1="115.56" y1="216.37" x2="115.56" y2="306.20" stroke="#767676" stroke-width="1.0"/>
<line x1="117.33" y1="216.37" x2="117.33" y2="331.60" stroke="#767676" stroke-width="1.0"/>
<line x1="115.06" y1="216.37" x2="117.83" y2="216.37" stroke="#555" stroke-width="1.0"/>
<line x1="116.44" y1="214.18" x2="116.44" y2="216.37" stroke="#555" stroke-width="1.0"/>
<line x1="113.28" y1="214.18" x2="116.94" y2="214.18" stroke="#555" stroke-width="1.0"/>
<line x1="115.11" y1="211.50" x2="115.11" y2="214.18" stroke="#555" stroke-width="1.0"/>
<line x1="110.17" y1="211.50" x2="115.61" y2="211.50" stroke="#555" stroke-width="1.0"/>
<line x1="112.89" y1="207.70" x2="112.89" y2="211.50" stroke="#555" stroke-width="1.0"/>
<line x1="119.11" y1="211.92" x2="119.11" y2="305.40" stroke="#767676" stroke-width="1.0"/>
<line x1="120.89" y1="211.92" x2="120.89" y2="306.20" stroke="#767676" stroke-width="1.0"/>
<line x1="118.61" y1="211.92" x2="121.39" y2="211.92" stroke="#555" stroke-width="1.0"/>
<line x1="120.00" y1="209.50" x2="120.00" y2="211.92" stroke="#555" stroke-width="1.0"/>
<line x1="122.67" y1="213.65" x2="122.67" y2="324.20" stroke="#767676" stroke-width="1.0"/>
<line x1="124.44" y1="213.65" x2="124.44" y2="295.60" stroke="#767676" stroke-width="1.0"/>
<line x1="122.17" y1="213.65" x2="124.94" y2="213.65" stroke="#555" stroke-width="1.0"/>
<line x1="123.56" y1="212.19" x2="123.56" y2="213.65" stroke="#555" stroke-width="1.0"/>
<line x1="126.22" y1="212.19" x2="126.22" y2="303.00" stroke="#767676" stroke-width="1.0"/>
<line x1="123.06" y1="212.19" x2="126.72" y2="212.19" stroke="#555" stroke-width="1.0"/>
<line x1="124.89" y1="209.50" x2="124.89" y2="212.19" stroke="#555" stroke-width="1.0"/>
<line x1="119.50" y1="209.50" x2="125.39" y2="209.50" stroke="#555" stroke-width="1.0"/>
<line x1="122.44" y1="207.70" x2="122.44" y2="209.50" stroke="#555" stroke-width="1.0"/>
<line x1="128.00" y1="220.39" x2="128.00" y2="312.80" stroke="#767676" stroke-width="1.0"/>
<line x1="129.78" y1="220.39" x2="129.78" y2="303.00" stroke="#767676" stroke-width="1.0"/>
<line x1="127.50" y1="220.39" x2="130.28" y2="220.39" stroke="#555" stroke-width="1.0"/>
<line x1="128.89" y1="217.87" x2="128.89" y2="220.39" stroke="#555" stroke-width="1.0"/>
<line x1="131.55" y1="217.87" x2="131.55" y2="298.90" stroke="#767676" stroke-width="1.0"/>
<line x1="128.39" y1="217.87" x2="132.05" y2="217.87" stroke="#555" stroke-width="1.0"/>
<line x1="130.22" y1="216.50" x2="130.22" y2="217.87" stroke="#555" stroke-width="1.0"/>
<line x1="133.33" y1="219.20" x2="133.33" y2="300.50" stroke="#767676" stroke-width="1.0"/>
<line x1="135.11" y1="219.20" x2="135.11" y2="304.60" stroke="#767676" stroke-width="1.0"/>
<line x1="132.83" y1="219.20" x2="135.61" y2="219.20" stroke="#555" stroke-width="1.0"/>
<line x1="134.22" y1="216.50" x2="134.22" y2="219.20" stroke="#555" stroke-width="1.0"/>
<line x1="129.72" y1="216.50" x2="134.72" y2="216.50" stroke="#555" stroke-width="1.0"/>
<line x1="132.22" y1="207.70" x2="132.22" y2="216.50" stroke="#555" stroke-width="1.0"/>
<line x1="136.89" y1="213.01" x2="136.89" y2="312.80" stroke="#767676" stroke-width="1.0"/>
<line x1="138.66" y1="213.01" x2="138.66" y2="320.10" stroke="#767676" stroke-width="1.0"/>
<line x1="136.39" y1="213.01" x2="139.16" y2="213.01" stroke="#555" stroke-width="1.0"/>
<line x1="137.78" y1="210.50" x2="137.78" y2="213.01" stroke="#555" stroke-width="1.0"/>
<line x1="140.44" y1="213.21" x2="140.44" y2="316.00" stroke="#767676" stroke-width="1.0"/>
<line x1="142.22" y1="213.21" x2="142.22" y2="327.50" stroke="#767676" stroke-width="1.0"/>
<line x1="139.94" y1="213.21" x2="142.72" y2="213.21" stroke="#555" stroke-width="1.0"/>
<line x1="141.33" y1="210.50" x2="141.33" y2="213.21" stroke="#555" stroke-width="1.0"/>
<line x1="137.28" y1="210.50" x2="141.83" y2="210.50" stroke="#555" stroke-width="1.0"/>
<line x1="139.55" y1="207.70" x2="139.55" y2="210.50" stroke="#555" stroke-width="1.0"/>
<line x1="144.00" y1="213.46" x2="144.00" y2="309.50" stroke="#767676" stroke-width="1.0"/>
<line x1="145.78" y1="216.12" x2="145.78" y2="301.30" stroke="#767676" stroke-width="1.0"/>
<line x1="147.55" y1="216.12" x2="147.55" y2="309.50" stroke="#767676" stroke-width="1.0"/>
<line x1="145.28" y1="216.12" x2="148.05" y2="216.12" stroke="#555" stroke-width="1.0"/>
<line x1="146.66" y1="213.46" x2="146.66" y2="216.12" stroke="#555" stroke-width="1.0"/>
<line x1="143.50" y1="213.46" x2="147.16" y2="213.46" stroke="#555" stroke-width="1.0"/>
<line x1="145.33" y1="212.00" x2="145.33" y2="213.46" stroke="#555" stroke-width="1.0"/>
<line x1="149.33" y1="214.72" x2="149.33" y2="316.90" stroke="#767676" stroke-width="1.0"/>
<line x1="151.11" y1="214.72" x2="151.11" y2="320.10" stroke="#767676" stroke-width="1.0"/>
<line x1="148.83" y1="214.72" x2="151.61" y2="214.72" stroke="#555" stroke-width="1.0"/>
<line x1="150.22" y1="212.00" x2="150.22" y2="214.72" stroke="#555" stroke-width="1.0"/>
<line x1="144.83" y1="212.00" x2="150.72" y2="212.00" stroke="#555" stroke-width="1.0"/>
<line x1="147.78" y1="207.70" x2="147.78" y2="212.00" stroke="#555" stroke-width="1.0"/>
<line x1="152.89" y1="212.60" x2="152.89" y2="320.90" stroke="#767676" stroke-width="1.0"/>
<line x1="154.66" y1="212.60" x2="154.66" y2="306.20" stroke="#767676" stroke-width="1.0"/>
<line x1="152.39" y1="212.60" x2="155.16" y2="212.60" stroke="#555" stroke-width="1.0"/>
<line x1="153.77" y1="210.00" x2="153.77" y2="212.60" stroke="#555" stroke-width="1.0"/>
<line x1="156.44" y1="212.73" x2="156.44" y2="311.10" stroke="#767676" stroke-width="1.0"/>
<line x1="158.22" y1="215.04" x2="158.22" y2="317.70" stroke="#767676" stroke-width="1.0"/>
<line x1="160.00" y1="215.04" x2="160.00" y2="325.00" stroke="#767676" stroke-width="1.0"/>
<line x1="157.72" y1="215.04" x2="160.50" y2="215.04" stroke="#555" stroke-width="1.0"/>
<line x1="159.11" y1="212.73" x2="159.11" y2="215.04" stroke="#555" stroke-width="1.0"/>
<line x1="155.94" y1="212.73" x2="159.61" y2="212.73" stroke="#555" stroke-width="1.0"/>
<line x1="157.77" y1="210.00" x2="157.77" y2="212.73" stroke="#555" stroke-width="1.0"/>
<line x1="153.27" y1="210.00" x2="158.27" y2="210.00" stroke="#555" stroke-width="1.0"/>
<line x1="155.77" y1="207.70" x2="155.77" y2="210.00" stroke="#555" stroke-width="1.0"/>
<line x1="161.77" y1="207.70" x2="161.77" y2="297.30" stroke="#767676" stroke-width="1.0"/>
<line x1="112.39" y1="207.70" x2="162.27" y2="207.70" stroke="#555" stroke-width="1.0"/>
<line x1="137.33" y1="205.50" x2="137.33" y2="207.70" stroke="#555" stroke-width="1.0"/>
<line x1="57.67" y1="205.50" x2="137.83" y2="205.50" stroke="#555" stroke-width="1.0"/>
<line x1="184.80" y1="205.80" x2="341.80" y2="205.80" stroke="#666" stroke-width="1.2"/>
<line x1="188.20" y1="245.28" x2="188.20" y2="338.80" stroke="#767676" stroke-width="1.0"/>
<line x1="189.98" y1="245.28" x2="189.98" y2="355.00" stroke="#767676" stroke-width="1.0"/>
<line x1="187.70" y1="245.28" x2="190.48" y2="245.28" stroke="#666" stroke-width="1.0"/>
<line x1="189.09" y1="243.97" x2="189.09" y2="245.28" stroke="#666" stroke-width="1.0"/>
<line x1="191.76" y1="245.16" x2="191.76" y2="346.50" stroke="#767676" stroke-width="1.0"/>
<line x1="193.53" y1="245.16" x2="193.53" y2="343.50" stroke="#767676" stroke-width="1.0"/>
<line x1="191.26" y1="245.16" x2="194.03" y2="245.16" stroke="#666" stroke-width="1.0"/>
<line x1="192.64" y1="243.97" x2="192.64" y2="245.16" stroke="#666" stroke-width="1.0"/>
<line x1="188.59" y1="243.97" x2="193.14" y2="243.97" stroke="#666" stroke-width="1.0"/>
<line x1="190.87" y1="243.00" x2="190.87" y2="243.97" stroke="#666" stroke-width="1.0"/>
<line x1="195.31" y1="245.27" x2="195.31" y2="349.60" stroke="#767676" stroke-width="1.0"/>
<line x1="197.09" y1="245.27" x2="197.09" y2="353.50" stroke="#767676" stroke-width="1.0"/>
<line x1="194.81" y1="245.27" x2="197.59" y2="245.27" stroke="#666" stroke-width="1.0"/>
<line x1="196.20" y1="244.05" x2="196.20" y2="245.27" stroke="#666" stroke-width="1.0"/>
<line x1="198.87" y1="244.05" x2="198.87" y2="348.00" stroke="#767676" stroke-width="1.0"/>
<line x1="195.70" y1="244.05" x2="199.37" y2="244.05" stroke="#666" stroke-width="1.0"/>
<line x1="197.53" y1="243.00" x2="197.53" y2="244.05" stroke="#666" stroke-width="1.0"/>
<line x1="190.37" y1="243.00" x2="198.03" y2="243.00" stroke="#666" stroke-width="1.0"/>
<line x1="200.64" y1="243.50" x2="200.64" y2="349.60" stroke="#767676" stroke-width="1.0"/>
<line x1="202.42" y1="244.52" x2="202.42" y2="335.80" stroke="#767676" stroke-width="1.0"/>
<line x1="204.20" y1="244.52" x2="204.20" y2="340.40" stroke="#767676" stroke-width="1.0"/>
<line x1="201.92" y1="244.52" x2="204.70" y2="244.52" stroke="#666" stroke-width="1.0"/>
<line x1="203.31" y1="243.50" x2="203.31" y2="244.52" stroke="#666" stroke-width="1.0"/>
<line x1="200.14" y1="243.50" x2="203.81" y2="243.50" stroke="#666" stroke-width="1.0"/>
<line x1="194.20" y1="223.30" x2="194.20" y2="243.00" stroke="#666" stroke-width="1.0"/>
<line x1="201.98" y1="223.30" x2="201.98" y2="243.50" stroke="#666" stroke-width="1.0"/>
<line x1="193.70" y1="223.30" x2="202.48" y2="223.30" stroke="#666" stroke-width="1.0"/>
<line x1="198.09" y1="218.10" x2="198.09" y2="223.30" stroke="#666" stroke-width="1.0"/>
<line x1="205.98" y1="245.43" x2="205.98" y2="348.00" stroke="#767676" stroke-width="1.0"/>
<line x1="207.75" y1="245.43" x2="207.75" y2="345.00" stroke="#767676" stroke-width="1.0"/>
<line x1="205.48" y1="245.43" x2="208.25" y2="245.43" stroke="#666" stroke-width="1.0"/>
<line x1="206.86" y1="244.06" x2="206.86" y2="245.43" stroke="#666" stroke-width="1.0"/>
<line x1="209.53" y1="244.06" x2="209.53" y2="352.70" stroke="#767676" stroke-width="1.0"/>
<line x1="206.36" y1="244.06" x2="210.03" y2="244.06" stroke="#666" stroke-width="1.0"/>
<line x1="208.20" y1="243.01" x2="208.20" y2="244.06" stroke="#666" stroke-width="1.0"/>
<line x1="211.31" y1="244.44" x2="211.31" y2="332.70" stroke="#767676" stroke-width="1.0"/>
<line x1="213.09" y1="244.44" x2="213.09" y2="343.50" stroke="#767676" stroke-width="1.0"/>
<line x1="210.81" y1="244.44" x2="213.59" y2="244.44" stroke="#666" stroke-width="1.0"/>
<line x1="212.20" y1="243.01" x2="212.20" y2="244.44" stroke="#666" stroke-width="1.0"/>
<line x1="207.70" y1="243.01" x2="212.70" y2="243.01" stroke="#666" stroke-width="1.0"/>
<line x1="210.20" y1="242.00" x2="210.20" y2="243.01" stroke="#666" stroke-width="1.0"/>
<line x1="214.86" y1="244.13" x2="214.86" y2="351.20" stroke="#767676" stroke-width="1.0"/>
<line x1="216.64" y1="244.13" x2="216.64" y2="341.90" stroke="#767676" stroke-width="1.0"/>
<line x1="214.36" y1="244.13" x2="217.14" y2="244.13" stroke="#666" stroke-width="1.0"/>
<line x1="215.75" y1="243.06" x2="215.75" y2="244.13" stroke="#666" stroke-width="1.0"/>
<line x1="218.42" y1="244.27" x2="218.42" y2="334.20" stroke="#767676" stroke-width="1.0"/>
<line x1="220.20" y1="244.27" x2="220.20" y2="340.40" stroke="#767676" stroke-width="1.0"/>
<line x1="217.92" y1="244.27" x2="220.70" y2="244.27" stroke="#666" stroke-width="1.0"/>
<line x1="219.31" y1="243.06" x2="219.31" y2="244.27" stroke="#666" stroke-width="1.0"/>
<line x1="215.25" y1="243.06" x2="219.81" y2="243.06" stroke="#666" stroke-width="1.0"/>
<line x1="217.53" y1="242.00" x2="217.53" y2="243.06" stroke="#666" stroke-width="1.0"/>
<line x1="209.70" y1="242.00" x2="218.03" y2="242.00" stroke="#666" stroke-width="1.0"/>
<line x1="213.86" y1="208.20" x2="213.86" y2="242.00" stroke="#666" stroke-width="1.0"/>
<line x1="221.97" y1="222.20" x2="221.97" y2="344.20" stroke="#767676" stroke-width="1.0"/>
<line x1="223.75" y1="227.40" x2="223.75" y2="337.30" stroke="#767676" stroke-width="1.0"/>
<line x1="225.53" y1="229.04" x2="225.53" y2="360.40" stroke="#767676" stroke-width="1.0"/>
<line x1="227.31" y1="229.04" x2="227.31" y2="345.80" stroke="#767676" stroke-width="1.0"/>
<line x1="225.03" y1="229.04" x2="227.81" y2="229.04" stroke="#666" stroke-width="1.0"/>
<line x1="226.42" y1="228.26" x2="226.42" y2="229.04" stroke="#666" stroke-width="1.0"/>
<line x1="229.08" y1="228.26" x2="229.08" y2="348.00" stroke="#767676" stroke-width="1.0"/>
<line x1="225.92" y1="228.26" x2="229.58" y2="228.26" stroke="#666" stroke-width="1.0"/>
<line x1="227.75" y1="227.40" x2="227.75" y2="228.26" stroke="#666" stroke-width="1.0"/>
<line x1="223.25" y1="227.40" x2="228.25" y2="227.40" stroke="#666" stroke-width="1.0"/>
<line x1="225.75" y1="222.20" x2="225.75" y2="227.40" stroke="#666" stroke-width="1.0"/>
<line x1="221.47" y1="222.20" x2="226.25" y2="222.20" stroke="#666" stroke-width="1.0"/>
<line x1="223.86" y1="208.20" x2="223.86" y2="222.20" stroke="#666" stroke-width="1.0"/>
<line x1="230.86" y1="228.81" x2="230.86" y2="359.60" stroke="#767676" stroke-width="1.0"/>
<line x1="232.64" y1="228.81" x2="232.64" y2="355.00" stroke="#767676" stroke-width="1.0"/>
<line x1="230.36" y1="228.81" x2="233.14" y2="228.81" stroke="#666" stroke-width="1.0"/>
<line x1="231.75" y1="227.80" x2="231.75" y2="228.81" stroke="#666" stroke-width="1.0"/>
<line x1="234.42" y1="227.80" x2="234.42" y2="363.50" stroke="#767676" stroke-width="1.0"/>
<line x1="231.25" y1="227.80" x2="234.92" y2="227.80" stroke="#666" stroke-width="1.0"/>
<line x1="233.08" y1="225.30" x2="233.08" y2="227.80" stroke="#666" stroke-width="1.0"/>
<line x1="236.20" y1="225.30" x2="236.20" y2="341.90" stroke="#767676" stroke-width="1.0"/>
<line x1="232.58" y1="225.30" x2="236.70" y2="225.30" stroke="#666" stroke-width="1.0"/>
<line x1="234.64" y1="208.20" x2="234.64" y2="225.30" stroke="#666" stroke-width="1.0"/>
<line x1="237.97" y1="208.20" x2="237.97" y2="351.20" stroke="#767676" stroke-width="1.0"/>
<line x1="239.75" y1="208.20" x2="239.75" y2="339.60" stroke="#767676" stroke-width="1.0"/>
<line x1="241.53" y1="225.30" x2="241.53" y2="341.90" stroke="#767676" stroke-width="1.0"/>
<line x1="243.31" y1="225.30" x2="243.31" y2="328.00" stroke="#767676" stroke-width="1.0"/>
<line x1="241.03" y1="225.30" x2="243.81" y2="225.30" stroke="#666" stroke-width="1.0"/>
<line x1="242.42" y1="208.20" x2="242.42" y2="225.30" stroke="#666" stroke-width="1.0"/>
<line x1="213.36" y1="208.20" x2="242.92" y2="208.20" stroke="#666" stroke-width="1.0"/>
<line x1="228.14" y1="205.80" x2="228.14" y2="208.20" stroke="#666" stroke-width="1.0"/>
<line x1="245.08" y1="221.50" x2="245.08" y2="331.20" stroke="#767676" stroke-width="1.0"/>
<line x1="246.86" y1="221.50" x2="246.86" y2="346.50" stroke="#767676" stroke-width="1.0"/>
<line x1="244.58" y1="221.50" x2="247.36" y2="221.50" stroke="#666" stroke-width="1.0"/>
<line x1="245.97" y1="220.50" x2="245.97" y2="221.50" stroke="#666" stroke-width="1.0"/>
<line x1="248.64" y1="220.50" x2="248.64" y2="361.20" stroke="#767676" stroke-width="1.0"/>
<line x1="245.47" y1="220.50" x2="249.14" y2="220.50" stroke="#666" stroke-width="1.0"/>
<line x1="247.31" y1="213.00" x2="247.31" y2="220.50" stroke="#666" stroke-width="1.0"/>
<line x1="250.42" y1="213.00" x2="250.42" y2="340.40" stroke="#767676" stroke-width="1.0"/>
<line x1="252.19" y1="217.50" x2="252.19" y2="346.50" stroke="#767676" stroke-width="1.0"/>
<line x1="253.97" y1="217.50" x2="253.97" y2="339.60" stroke="#767676" stroke-width="1.0"/>
<line x1="251.69" y1="217.50" x2="254.47" y2="217.50" stroke="#666" stroke-width="1.0"/>
<line x1="253.08" y1="216.00" x2="253.08" y2="217.50" stroke="#666" stroke-width="1.0"/>
<line x1="255.75" y1="218.00" x2="255.75" y2="349.60" stroke="#767676" stroke-width="1.0"/>
<line x1="257.53" y1="218.00" x2="257.53" y2="338.80" stroke="#767676" stroke-width="1.0"/>
<line x1="255.25" y1="218.00" x2="258.03" y2="218.00" stroke="#666" stroke-width="1.0"/>
<line x1="256.64" y1="216.00" x2="256.64" y2="218.00" stroke="#666" stroke-width="1.0"/>
<line x1="252.58" y1="216.00" x2="257.14" y2="216.00" stroke="#666" stroke-width="1.0"/>
<line x1="254.86" y1="213.00" x2="254.86" y2="216.00" stroke="#666" stroke-width="1.0"/>
<line x1="246.81" y1="213.00" x2="255.36" y2="213.00" stroke="#666" stroke-width="1.0"/>
<line x1="251.08" y1="209.30" x2="251.08" y2="213.00" stroke="#666" stroke-width="1.0"/>
<line x1="259.30" y1="211.00" x2="259.30" y2="358.10" stroke="#767676" stroke-width="1.0"/>
<line x1="261.08" y1="211.00" x2="261.08" y2="346.50" stroke="#767676" stroke-width="1.0"/>
<line x1="258.80" y1="211.00" x2="261.58" y2="211.00" stroke="#666" stroke-width="1.0"/>
<line x1="260.19" y1="209.30" x2="260.19" y2="211.00" stroke="#666" stroke-width="1.0"/>
<line x1="262.86" y1="215.00" x2="262.86" y2="352.70" stroke="#767676" stroke-width="1.0"/>
<line x1="264.64" y1="215.00" x2="264.64" y2="360.10" stroke="#767676" stroke-width="1.0"/>
<line x1="262.36" y1="215.00" x2="265.14" y2="215.00" stroke="#666" stroke-width="1.0"/>
<line x1="263.75" y1="214.00" x2="263.75" y2="215.00" stroke="#666" stroke-width="1.0"/>
<line x1="266.41" y1="214.00" x2="266.41" y2="346.20" stroke="#767676" stroke-width="1.0"/>
<line x1="263.25" y1="214.00" x2="266.91" y2="214.00" stroke="#666" stroke-width="1.0"/>
<line x1="265.08" y1="212.50" x2="265.08" y2="214.00" stroke="#666" stroke-width="1.0"/>
<line x1="268.19" y1="221.00" x2="268.19" y2="346.20" stroke="#767676" stroke-width="1.0"/>
<line x1="269.97" y1="221.00" x2="269.97" y2="356.00" stroke="#767676" stroke-width="1.0"/>
<line x1="267.69" y1="221.00" x2="270.47" y2="221.00" stroke="#666" stroke-width="1.0"/>
<line x1="269.08" y1="219.00" x2="269.08" y2="221.00" stroke="#666" stroke-width="1.0"/>
<line x1="271.75" y1="219.00" x2="271.75" y2="348.70" stroke="#767676" stroke-width="1.0"/>
<line x1="268.58" y1="219.00" x2="272.25" y2="219.00" stroke="#666" stroke-width="1.0"/>
<line x1="270.41" y1="218.00" x2="270.41" y2="219.00" stroke="#666" stroke-width="1.0"/>
<line x1="273.52" y1="220.50" x2="273.52" y2="365.00" stroke="#767676" stroke-width="1.0"/>
<line x1="275.30" y1="220.50" x2="275.30" y2="313.70" stroke="#767676" stroke-width="1.0"/>
<line x1="273.02" y1="220.50" x2="275.80" y2="220.50" stroke="#666" stroke-width="1.0"/>
<line x1="274.41" y1="219.50" x2="274.41" y2="220.50" stroke="#666" stroke-width="1.0"/>
<line x1="277.08" y1="219.50" x2="277.08" y2="334.00" stroke="#767676" stroke-width="1.0"/>
<line x1="273.91" y1="219.50" x2="277.58" y2="219.50" stroke="#666" stroke-width="1.0"/>
<line x1="275.75" y1="218.00" x2="275.75" y2="219.50" stroke="#666" stroke-width="1.0"/>
<line x1="269.91" y1="218.00" x2="276.25" y2="218.00" stroke="#666" stroke-width="1.0"/>
<line x1="273.08" y1="212.50" x2="273.08" y2="218.00" stroke="#666" stroke-width="1.0"/>
<line x1="264.58" y1="212.50" x2="273.58" y2="212.50" stroke="#666" stroke-width="1.0"/>
<line x1="269.08" y1="209.30" x2="269.08" y2="212.50" stroke="#666" stroke-width="1.0"/>
<line x1="250.58" y1="209.30" x2="269.58" y2="209.30" stroke="#666" stroke-width="1.0"/>
<line x1="260.08" y1="205.80" x2="260.08" y2="209.30" stroke="#666" stroke-width="1.0"/>
<line x1="227.64" y1="205.80" x2="260.58" y2="205.80" stroke="#666" stroke-width="1.0"/>
<line x1="278.86" y1="258.22" x2="278.86" y2="359.30" stroke="#767676" stroke-width="1.0"/>
<line x1="280.64" y1="258.22" x2="280.64" y2="358.50" stroke="#767676" stroke-width="1.0"/>
<line x1="278.36" y1="258.22" x2="281.14" y2="258.22" stroke="#666" stroke-width="1.0"/>
<line x1="279.75" y1="256.50" x2="279.75" y2="258.22" stroke="#666" stroke-width="1.0"/>
<line x1="282.41" y1="257.63" x2="282.41" y2="341.30" stroke="#767676" stroke-width="1.0"/>
<line x1="284.19" y1="257.63" x2="284.19" y2="346.20" stroke="#767676" stroke-width="1.0"/>
<line x1="281.91" y1="257.63" x2="284.69" y2="257.63" stroke="#666" stroke-width="1.0"/>
<line x1="283.30" y1="256.50" x2="283.30" y2="257.63" stroke="#666" stroke-width="1.0"/>
<line x1="279.25" y1="256.50" x2="283.80" y2="256.50" stroke="#666" stroke-width="1.0"/>
<line x1="281.52" y1="255.00" x2="281.52" y2="256.50" stroke="#666" stroke-width="1.0"/>
<line x1="285.97" y1="256.26" x2="285.97" y2="340.50" stroke="#767676" stroke-width="1.0"/>
<line x1="287.75" y1="256.26" x2="287.75" y2="343.00" stroke="#767676" stroke-width="1.0"/>
<line x1="285.47" y1="256.26" x2="288.25" y2="256.26" stroke="#666" stroke-width="1.0"/>
<line x1="286.86" y1="255.00" x2="286.86" y2="256.26" stroke="#666" stroke-width="1.0"/>
<line x1="281.02" y1="255.00" x2="287.36" y2="255.00" stroke="#666" stroke-width="1.0"/>
<line x1="284.19" y1="224.50" x2="284.19" y2="255.00" stroke="#666" stroke-width="1.0"/>
<line x1="289.52" y1="256.00" x2="289.52" y2="352.00" stroke="#767676" stroke-width="1.0"/>
<line x1="291.30" y1="257.27" x2="291.30" y2="342.20" stroke="#767676" stroke-width="1.0"/>
<line x1="293.08" y1="257.27" x2="293.08" y2="344.60" stroke="#767676" stroke-width="1.0"/>
<line x1="290.80" y1="257.27" x2="293.58" y2="257.27" stroke="#666" stroke-width="1.0"/>
<line x1="292.19" y1="256.00" x2="292.19" y2="257.27" stroke="#666" stroke-width="1.0"/>
<line x1="289.02" y1="256.00" x2="292.69" y2="256.00" stroke="#666" stroke-width="1.0"/>
<line x1="290.86" y1="224.50" x2="290.86" y2="256.00" stroke="#666" stroke-width="1.0"/>
<line x1="294.86" y1="256.29" x2="294.86" y2="353.60" stroke="#767676" stroke-width="1.0"/>
<line x1="296.63" y1="256.29" x2="296.63" y2="345.40" stroke="#767676" stroke-width="1.0"/>
<line x1="294.36" y1="256.29" x2="297.13" y2="256.29" stroke="#666" stroke-width="1.0"/>
<line x1="295.74" y1="254.95" x2="295.74" y2="256.29" stroke="#666" stroke-width="1.0"/>
<line x1="298.41" y1="256.46" x2="298.41" y2="352.80" stroke="#767676" stroke-width="1.0"/>
<line x1="300.19" y1="256.46" x2="300.19" y2="360.10" stroke="#767676" stroke-width="1.0"/>
<line x1="297.91" y1="256.46" x2="300.69" y2="256.46" stroke="#666" stroke-width="1.0"/>
<line x1="299.30" y1="254.95" x2="299.30" y2="256.46" stroke="#666" stroke-width="1.0"/>
<line x1="295.24" y1="254.95" x2="299.80" y2="254.95" stroke="#666" stroke-width="1.0"/>
<line x1="297.52" y1="253.40" x2="297.52" y2="254.95" stroke="#666" stroke-width="1.0"/>
<line x1="301.97" y1="254.67" x2="301.97" y2="355.20" stroke="#767676" stroke-width="1.0"/>
<line x1="303.74" y1="254.67" x2="303.74" y2="346.20" stroke="#767676" stroke-width="1.0"/>
<line x1="301.47" y1="254.67" x2="304.24" y2="254.67" stroke="#666" stroke-width="1.0"/>
<line x1="302.86" y1="253.40" x2="302.86" y2="254.67" stroke="#666" stroke-width="1.0"/>
<line x1="297.02" y1="253.40" x2="303.36" y2="253.40" stroke="#666" stroke-width="1.0"/>
<line x1="300.19" y1="237.20" x2="300.19" y2="253.40" stroke="#666" stroke-width="1.0"/>
<line x1="283.69" y1="224.50" x2="291.36" y2="224.50" stroke="#666" stroke-width="1.0"/>
<line x1="287.52" y1="205.80" x2="287.52" y2="224.50" stroke="#666" stroke-width="1.0"/>
<line x1="290.36" y1="237.20" x2="300.69" y2="237.20" stroke="#666" stroke-width="1.0"/>
<line x1="305.52" y1="256.64" x2="305.52" y2="354.40" stroke="#767676" stroke-width="1.0"/>
<line x1="307.30" y1="256.64" x2="307.30" y2="348.70" stroke="#767676" stroke-width="1.0"/>
<line x1="305.02" y1="256.64" x2="307.80" y2="256.64" stroke="#666" stroke-width="1.0"/>
<line x1="306.41" y1="255.50" x2="306.41" y2="256.64" stroke="#666" stroke-width="1.0"/>
<line x1="309.08" y1="255.50" x2="309.08" y2="344.60" stroke="#767676" stroke-width="1.0"/>
<line x1="305.91" y1="255.50" x2="309.58" y2="255.50" stroke="#666" stroke-width="1.0"/>
<line x1="307.74" y1="205.80" x2="307.74" y2="255.50" stroke="#666" stroke-width="1.0"/>
<line x1="310.85" y1="206.80" x2="310.85" y2="356.00" stroke="#767676" stroke-width="1.0"/>
<line x1="312.63" y1="219.50" x2="312.63" y2="335.60" stroke="#767676" stroke-width="1.0"/>
<line x1="314.41" y1="219.50" x2="314.41" y2="378.10" stroke="#767676" stroke-width="1.0"/>
<line x1="312.13" y1="219.50" x2="314.91" y2="219.50" stroke="#666" stroke-width="1.0"/>
<line x1="313.52" y1="213.50" x2="313.52" y2="219.50" stroke="#666" stroke-width="1.0"/>
<line x1="316.19" y1="217.00" x2="316.19" y2="356.90" stroke="#767676" stroke-width="1.0"/>
<line x1="317.96" y1="217.00" x2="317.96" y2="347.90" stroke="#767676" stroke-width="1.0"/>
<line x1="315.69" y1="217.00" x2="318.46" y2="217.00" stroke="#666" stroke-width="1.0"/>
<line x1="317.08" y1="216.50" x2="317.08" y2="217.00" stroke="#666" stroke-width="1.0"/>
<line x1="319.74" y1="216.50" x2="319.74" y2="359.30" stroke="#767676" stroke-width="1.0"/>
<line x1="316.58" y1="216.50" x2="320.24" y2="216.50" stroke="#666" stroke-width="1.0"/>
<line x1="318.41" y1="213.50" x2="318.41" y2="216.50" stroke="#666" stroke-width="1.0"/>
<line x1="313.02" y1="213.50" x2="318.91" y2="213.50" stroke="#666" stroke-width="1.0"/>
<line x1="315.96" y1="206.80" x2="315.96" y2="213.50" stroke="#666" stroke-width="1.0"/>
<line x1="321.52" y1="210.50" x2="321.52" y2="343.80" stroke="#767676" stroke-width="1.0"/>
<line x1="323.30" y1="210.50" x2="323.30" y2="346.20" stroke="#767676" stroke-width="1.0"/>
<line x1="321.02" y1="210.50" x2="323.80" y2="210.50" stroke="#666" stroke-width="1.0"/>
<line x1="322.41" y1="209.50" x2="322.41" y2="210.50" stroke="#666" stroke-width="1.0"/>
<line x1="325.08" y1="211.00" x2="325.08" y2="332.40" stroke="#767676" stroke-width="1.0"/>
<line x1="326.85" y1="211.00" x2="326.85" y2="341.30" stroke="#767676" stroke-width="1.0"/>
<line x1="324.58" y1="211.00" x2="327.35" y2="211.00" stroke="#666" stroke-width="1.0"/>
<line x1="325.96" y1="209.50" x2="325.96" y2="211.00" stroke="#666" stroke-width="1.0"/>
<line x1="321.91" y1="209.50" x2="326.46" y2="209.50" stroke="#666" stroke-width="1.0"/>
<line x1="324.19" y1="206.80" x2="324.19" y2="209.50" stroke="#666" stroke-width="1.0"/>
<line x1="328.63" y1="213.50" x2="328.63" y2="358.50" stroke="#767676" stroke-width="1.0"/>
<line x1="330.41" y1="213.50" x2="330.41" y2="347.90" stroke="#767676" stroke-width="1.0"/>
<line x1="328.13" y1="213.50" x2="330.91" y2="213.50" stroke="#666" stroke-width="1.0"/>
<line x1="329.52" y1="212.50" x2="329.52" y2="213.50" stroke="#666" stroke-width="1.0"/>
<line x1="332.19" y1="214.00" x2="332.19" y2="354.40" stroke="#767676" stroke-width="1.0"/>
<line x1="333.96" y1="214.00" x2="333.96" y2="343.00" stroke="#767676" stroke-width="1.0"/>
<line x1="331.69" y1="214.00" x2="334.46" y2="214.00" stroke="#666" stroke-width="1.0"/>
<line x1="333.07" y1="212.50" x2="333.07" y2="214.00" stroke="#666" stroke-width="1.0"/>
<line x1="329.02" y1="212.50" x2="333.57" y2="212.50" stroke="#666" stroke-width="1.0"/>
<line x1="331.30" y1="206.80" x2="331.30" y2="212.50" stroke="#666" stroke-width="1.0"/>
<line x1="310.35" y1="206.80" x2="331.80" y2="206.80" stroke="#666" stroke-width="1.0"/>
<line x1="321.08" y1="206.30" x2="321.08" y2="206.80" stroke="#666" stroke-width="1.0"/>
<line x1="335.74" y1="275.80" x2="335.74" y2="367.50" stroke="#767676" stroke-width="1.0"/>
<line x1="337.52" y1="276.60" x2="337.52" y2="347.90" stroke="#767676" stroke-width="1.0"/>
<line x1="339.30" y1="276.60" x2="339.30" y2="359.30" stroke="#767676" stroke-width="1.0"/>
<line x1="337.02" y1="276.60" x2="339.80" y2="276.60" stroke="#666" stroke-width="1.0"/>
<line x1="338.41" y1="275.80" x2="338.41" y2="276.60" stroke="#666" stroke-width="1.0"/>
<line x1="335.24" y1="275.80" x2="338.91" y2="275.80" stroke="#666" stroke-width="1.0"/>
<line x1="337.07" y1="206.30" x2="337.07" y2="275.80" stroke="#666" stroke-width="1.0"/>
<line x1="320.58" y1="206.30" x2="337.57" y2="206.30" stroke="#666" stroke-width="1.0"/>
<line x1="329.07" y1="205.80" x2="329.07" y2="206.30" stroke="#666" stroke-width="1.0"/>
<line x1="307.24" y1="205.80" x2="329.57" y2="205.80" stroke="#666" stroke-width="1.0"/>
<line x1="197.59" y1="218.10" x2="213.86" y2="218.10" stroke="#666" stroke-width="1.0"/>
<line x1="357.60" y1="310.44" x2="357.60" y2="364.90" stroke="#767676" stroke-width="1.0"/>
<line x1="359.38" y1="310.44" x2="359.38" y2="361.50" stroke="#767676" stroke-width="1.0"/>
<line x1="357.10" y1="310.44" x2="359.88" y2="310.44" stroke="#666" stroke-width="1.0"/>
<line x1="358.49" y1="308.73" x2="358.49" y2="310.44" stroke="#666" stroke-width="1.0"/>
<line x1="361.16" y1="308.73" x2="361.16" y2="375.30" stroke="#767676" stroke-width="1.0"/>
<line x1="357.99" y1="308.73" x2="361.66" y2="308.73" stroke="#666" stroke-width="1.0"/>
<line x1="359.82" y1="306.74" x2="359.82" y2="308.73" stroke="#666" stroke-width="1.0"/>
<line x1="362.93" y1="306.74" x2="362.93" y2="368.90" stroke="#767676" stroke-width="1.0"/>
<line x1="359.32" y1="306.74" x2="363.43" y2="306.74" stroke="#666" stroke-width="1.0"/>
<line x1="361.38" y1="304.90" x2="361.38" y2="306.74" stroke="#666" stroke-width="1.0"/>
<line x1="364.71" y1="306.54" x2="364.71" y2="362.20" stroke="#767676" stroke-width="1.0"/>
<line x1="366.49" y1="308.33" x2="366.49" y2="364.20" stroke="#767676" stroke-width="1.0"/>
<line x1="368.27" y1="308.33" x2="368.27" y2="373.00" stroke="#767676" stroke-width="1.0"/>
<line x1="365.99" y1="308.33" x2="368.77" y2="308.33" stroke="#666" stroke-width="1.0"/>
<line x1="367.38" y1="306.54" x2="367.38" y2="308.33" stroke="#666" stroke-width="1.0"/>
<line x1="364.21" y1="306.54" x2="367.88" y2="306.54" stroke="#666" stroke-width="1.0"/>
<line x1="366.04" y1="304.90" x2="366.04" y2="306.54" stroke="#666" stroke-width="1.0"/>
<line x1="360.88" y1="304.90" x2="366.54" y2="304.90" stroke="#666" stroke-width="1.0"/>
<line x1="363.71" y1="300.90" x2="363.71" y2="304.90" stroke="#666" stroke-width="1.0"/>
<line x1="370.04" y1="309.75" x2="370.04" y2="367.60" stroke="#767676" stroke-width="1.0"/>
<line x1="371.82" y1="309.75" x2="371.82" y2="366.90" stroke="#767676" stroke-width="1.0"/>
<line x1="369.54" y1="309.75" x2="372.32" y2="309.75" stroke="#666" stroke-width="1.0"/>
<line x1="370.93" y1="307.60" x2="370.93" y2="309.75" stroke="#666" stroke-width="1.0"/>
<line x1="373.60" y1="307.60" x2="373.60" y2="366.20" stroke="#767676" stroke-width="1.0"/>
<line x1="370.43" y1="307.60" x2="374.10" y2="307.60" stroke="#666" stroke-width="1.0"/>
<line x1="372.27" y1="305.39" x2="372.27" y2="307.60" stroke="#666" stroke-width="1.0"/>
<line x1="375.38" y1="309.01" x2="375.38" y2="365.60" stroke="#767676" stroke-width="1.0"/>
<line x1="377.15" y1="309.01" x2="377.15" y2="364.20" stroke="#767676" stroke-width="1.0"/>
<line x1="374.88" y1="309.01" x2="377.65" y2="309.01" stroke="#666" stroke-width="1.0"/>
<line x1="376.26" y1="307.38" x2="376.26" y2="309.01" stroke="#666" stroke-width="1.0"/>
<line x1="378.93" y1="312.66" x2="378.93" y2="367.60" stroke="#767676" stroke-width="1.0"/>
<line x1="380.71" y1="312.66" x2="380.71" y2="367.60" stroke="#767676" stroke-width="1.0"/>
<line x1="378.43" y1="312.66" x2="381.21" y2="312.66" stroke="#666" stroke-width="1.0"/>
<line x1="379.82" y1="310.47" x2="379.82" y2="312.66" stroke="#666" stroke-width="1.0"/>
<line x1="382.49" y1="310.47" x2="382.49" y2="362.20" stroke="#767676" stroke-width="1.0"/>
<line x1="379.32" y1="310.47" x2="382.99" y2="310.47" stroke="#666" stroke-width="1.0"/>
<line x1="381.15" y1="308.76" x2="381.15" y2="310.47" stroke="#666" stroke-width="1.0"/>
<line x1="384.26" y1="310.80" x2="384.26" y2="360.90" stroke="#767676" stroke-width="1.0"/>
<line x1="386.04" y1="310.80" x2="386.04" y2="364.20" stroke="#767676" stroke-width="1.0"/>
<line x1="383.76" y1="310.80" x2="386.54" y2="310.80" stroke="#666" stroke-width="1.0"/>
<line x1="385.15" y1="308.76" x2="385.15" y2="310.80" stroke="#666" stroke-width="1.0"/>
<line x1="380.65" y1="308.76" x2="385.65" y2="308.76" stroke="#666" stroke-width="1.0"/>
<line x1="383.15" y1="307.38" x2="383.15" y2="308.76" stroke="#666" stroke-width="1.0"/>
<line x1="375.76" y1="307.38" x2="383.65" y2="307.38" stroke="#666" stroke-width="1.0"/>
<line x1="379.71" y1="305.39" x2="379.71" y2="307.38" stroke="#666" stroke-width="1.0"/>
<line x1="371.77" y1="305.39" x2="380.21" y2="305.39" stroke="#666" stroke-width="1.0"/>
<line x1="375.99" y1="303.00" x2="375.99" y2="305.39" stroke="#666" stroke-width="1.0"/>
<line x1="387.82" y1="306.47" x2="387.82" y2="371.00" stroke="#767676" stroke-width="1.0"/>
<line x1="389.60" y1="307.79" x2="389.60" y2="366.20" stroke="#767676" stroke-width="1.0"/>
<line x1="391.37" y1="307.79" x2="391.37" y2="364.90" stroke="#767676" stroke-width="1.0"/>
<line x1="389.10" y1="307.79" x2="391.87" y2="307.79" stroke="#666" stroke-width="1.0"/>
<line x1="390.49" y1="306.47" x2="390.49" y2="307.79" stroke="#666" stroke-width="1.0"/>
<line x1="387.32" y1="306.47" x2="390.99" y2="306.47" stroke="#666" stroke-width="1.0"/>
<line x1="389.15" y1="305.14" x2="389.15" y2="306.47" stroke="#666" stroke-width="1.0"/>
<line x1="393.15" y1="307.17" x2="393.15" y2="375.70" stroke="#767676" stroke-width="1.0"/>
<line x1="394.93" y1="307.17" x2="394.93" y2="366.90" stroke="#767676" stroke-width="1.0"/>
<line x1="392.65" y1="307.17" x2="395.43" y2="307.17" stroke="#666" stroke-width="1.0"/>
<line x1="394.04" y1="305.14" x2="394.04" y2="307.17" stroke="#666" stroke-width="1.0"/>
<line x1="388.65" y1="305.14" x2="394.54" y2="305.14" stroke="#666" stroke-width="1.0"/>
<line x1="391.60" y1="303.00" x2="391.60" y2="305.14" stroke="#666" stroke-width="1.0"/>
<line x1="375.49" y1="303.00" x2="392.10" y2="303.00" stroke="#666" stroke-width="1.0"/>
<line x1="383.79" y1="300.90" x2="383.79" y2="303.00" stroke="#666" stroke-width="1.0"/>
<line x1="363.21" y1="300.90" x2="384.29" y2="300.90" stroke="#666" stroke-width="1.0"/>
<line x1="373.75" y1="297.50" x2="373.75" y2="300.90" stroke="#666" stroke-width="1.0"/>
<line x1="396.71" y1="306.50" x2="396.71" y2="373.00" stroke="#767676" stroke-width="1.0"/>
<line x1="398.48" y1="308.09" x2="398.48" y2="360.20" stroke="#767676" stroke-width="1.0"/>
<line x1="400.26" y1="308.09" x2="400.26" y2="369.60" stroke="#767676" stroke-width="1.0"/>
<line x1="397.98" y1="308.09" x2="400.76" y2="308.09" stroke="#666" stroke-width="1.0"/>
<line x1="399.37" y1="306.50" x2="399.37" y2="308.09" stroke="#666" stroke-width="1.0"/>
<line x1="396.21" y1="306.50" x2="399.87" y2="306.50" stroke="#666" stroke-width="1.0"/>
<line x1="398.04" y1="297.50" x2="398.04" y2="306.50" stroke="#666" stroke-width="1.0"/>
<line x1="402.04" y1="307.68" x2="402.04" y2="364.20" stroke="#767676" stroke-width="1.0"/>
<line x1="403.82" y1="307.68" x2="403.82" y2="366.20" stroke="#767676" stroke-width="1.0"/>
<line x1="401.54" y1="307.68" x2="404.32" y2="307.68" stroke="#666" stroke-width="1.0"/>
<line x1="402.93" y1="306.00" x2="402.93" y2="307.68" stroke="#666" stroke-width="1.0"/>
<line x1="405.60" y1="306.00" x2="405.60" y2="373.00" stroke="#767676" stroke-width="1.0"/>
<line x1="402.43" y1="306.00" x2="406.10" y2="306.00" stroke="#666" stroke-width="1.0"/>
<line x1="404.26" y1="297.50" x2="404.26" y2="306.00" stroke="#666" stroke-width="1.0"/>
<line x1="407.37" y1="305.87" x2="407.37" y2="366.90" stroke="#767676" stroke-width="1.0"/>
<line x1="409.15" y1="305.87" x2="409.15" y2="371.60" stroke="#767676" stroke-width="1.0"/>
<line x1="406.87" y1="305.87" x2="409.65" y2="305.87" stroke="#666" stroke-width="1.0"/>
<line x1="408.26" y1="305.00" x2="408.26" y2="305.87" stroke="#666" stroke-width="1.0"/>
<line x1="410.93" y1="308.47" x2="410.93" y2="360.20" stroke="#767676" stroke-width="1.0"/>
<line x1="412.71" y1="308.47" x2="412.71" y2="369.60" stroke="#767676" stroke-width="1.0"/>
<line x1="410.43" y1="308.47" x2="413.21" y2="308.47" stroke="#666" stroke-width="1.0"/>
<line x1="411.82" y1="306.60" x2="411.82" y2="308.47" stroke="#666" stroke-width="1.0"/>
<line x1="414.48" y1="306.60" x2="414.48" y2="369.60" stroke="#767676" stroke-width="1.0"/>
<line x1="411.32" y1="306.60" x2="414.98" y2="306.60" stroke="#666" stroke-width="1.0"/>
<line x1="413.15" y1="305.00" x2="413.15" y2="306.60" stroke="#666" stroke-width="1.0"/>
<line x1="407.76" y1="305.00" x2="413.65" y2="305.00" stroke="#666" stroke-width="1.0"/>
<line x1="410.71" y1="297.50" x2="410.71" y2="305.00" stroke="#666" stroke-width="1.0"/>
<line x1="416.26" y1="307.25" x2="416.26" y2="374.30" stroke="#767676" stroke-width="1.0"/>
<line x1="418.04" y1="308.64" x2="418.04" y2="366.90" stroke="#767676" stroke-width="1.0"/>
<line x1="419.82" y1="308.64" x2="419.82" y2="380.40" stroke="#767676" stroke-width="1.0"/>
<line x1="417.54" y1="308.64" x2="420.32" y2="308.64" stroke="#666" stroke-width="1.0"/>
<line x1="418.93" y1="307.25" x2="418.93" y2="308.64" stroke="#666" stroke-width="1.0"/>
<line x1="415.76" y1="307.25" x2="419.43" y2="307.25" stroke="#666" stroke-width="1.0"/>
<line x1="417.59" y1="305.50" x2="417.59" y2="307.25" stroke="#666" stroke-width="1.0"/>
<line x1="421.59" y1="307.11" x2="421.59" y2="373.00" stroke="#767676" stroke-width="1.0"/>
<line x1="423.37" y1="307.11" x2="423.37" y2="369.60" stroke="#767676" stroke-width="1.0"/>
<line x1="421.09" y1="307.11" x2="423.87" y2="307.11" stroke="#666" stroke-width="1.0"/>
<line x1="422.48" y1="305.50" x2="422.48" y2="307.11" stroke="#666" stroke-width="1.0"/>
<line x1="417.09" y1="305.50" x2="422.98" y2="305.50" stroke="#666" stroke-width="1.0"/>
<line x1="420.04" y1="297.50" x2="420.04" y2="305.50" stroke="#666" stroke-width="1.0"/>
<line x1="425.15" y1="303.00" x2="425.15" y2="371.00" stroke="#767676" stroke-width="1.0"/>
<line x1="426.93" y1="304.61" x2="426.93" y2="373.60" stroke="#767676" stroke-width="1.0"/>
<line x1="428.70" y1="307.11" x2="428.70" y2="363.60" stroke="#767676" stroke-width="1.0"/>
<line x1="430.48" y1="307.11" x2="430.48" y2="362.20" stroke="#767676" stroke-width="1.0"/>
<line x1="428.20" y1="307.11" x2="430.98" y2="307.11" stroke="#666" stroke-width="1.0"/>
<line x1="429.59" y1="304.61" x2="429.59" y2="307.11" stroke="#666" stroke-width="1.0"/>
<line x1="426.43" y1="304.61" x2="430.09" y2="304.61" stroke="#666" stroke-width="1.0"/>
<line x1="428.26" y1="303.00" x2="428.26" y2="304.61" stroke="#666" stroke-width="1.0"/>
<line x1="424.65" y1="303.00" x2="428.76" y2="303.00" stroke="#666" stroke-width="1.0"/>
<line x1="426.70" y1="297.50" x2="426.70" y2="303.00" stroke="#666" stroke-width="1.0"/>
<line x1="432.26" y1="303.02" x2="432.26" y2="365.60" stroke="#767676" stroke-width="1.0"/>
<line x1="434.04" y1="303.02" x2="434.04" y2="366.90" stroke="#767676" stroke-width="1.0"/>
<line x1="431.76" y1="303.02" x2="434.54" y2="303.02" stroke="#666" stroke-width="1.0"/>
<line x1="433.15" y1="301.20" x2="433.15" y2="303.02" stroke="#666" stroke-width="1.0"/>
<line x1="435.81" y1="302.82" x2="435.81" y2="368.30" stroke="#767676" stroke-width="1.0"/>
<line x1="437.59" y1="302.82" x2="437.59" y2="365.60" stroke="#767676" stroke-width="1.0"/>
<line x1="435.31" y1="302.82" x2="438.09" y2="302.82" stroke="#666" stroke-width="1.0"/>
<line x1="436.70" y1="301.20" x2="436.70" y2="302.82" stroke="#666" stroke-width="1.0"/>
<line x1="432.65" y1="301.20" x2="437.20" y2="301.20" stroke="#666" stroke-width="1.0"/>
<line x1="434.93" y1="297.50" x2="434.93" y2="301.20" stroke="#666" stroke-width="1.0"/>
<line x1="439.37" y1="305.01" x2="439.37" y2="368.90" stroke="#767676" stroke-width="1.0"/>
<line x1="441.15" y1="305.01" x2="441.15" y2="375.70" stroke="#767676" stroke-width="1.0"/>
<line x1="438.87" y1="305.01" x2="441.65" y2="305.01" stroke="#666" stroke-width="1.0"/>
<line x1="440.26" y1="304.00" x2="440.26" y2="305.01" stroke="#666" stroke-width="1.0"/>
<line x1="442.92" y1="305.62" x2="442.92" y2="370.30" stroke="#767676" stroke-width="1.0"/>
<line x1="444.70" y1="308.00" x2="444.70" y2="373.60" stroke="#767676" stroke-width="1.0"/>
<line x1="446.48" y1="308.00" x2="446.48" y2="365.60" stroke="#767676" stroke-width="1.0"/>
<line x1="444.20" y1="308.00" x2="446.98" y2="308.00" stroke="#666" stroke-width="1.0"/>
<line x1="445.59" y1="305.62" x2="445.59" y2="308.00" stroke="#666" stroke-width="1.0"/>
<line x1="442.42" y1="305.62" x2="446.09" y2="305.62" stroke="#666" stroke-width="1.0"/>
<line x1="444.26" y1="304.00" x2="444.26" y2="305.62" stroke="#666" stroke-width="1.0"/>
<line x1="439.76" y1="304.00" x2="444.76" y2="304.00" stroke="#666" stroke-width="1.0"/>
<line x1="442.26" y1="297.50" x2="442.26" y2="304.00" stroke="#666" stroke-width="1.0"/>
<line x1="448.26" y1="306.99" x2="448.26" y2="365.60" stroke="#767676" stroke-width="1.0"/>
<line x1="450.04" y1="306.99" x2="450.04" y2="370.30" stroke="#767676" stroke-width="1.0"/>
<line x1="447.76" y1="306.99" x2="450.54" y2="306.99" stroke="#666" stroke-width="1.0"/>
<line x1="449.15" y1="305.39" x2="449.15" y2="306.99" stroke="#666" stroke-width="1.0"/>
<line x1="451.81" y1="305.39" x2="451.81" y2="371.60" stroke="#767676" stroke-width="1.0"/>
<line x1="448.65" y1="305.39" x2="452.31" y2="305.39" stroke="#666" stroke-width="1.0"/>
<line x1="450.48" y1="303.50" x2="450.48" y2="305.39" stroke="#666" stroke-width="1.0"/>
<line x1="453.59" y1="305.13" x2="453.59" y2="363.60" stroke="#767676" stroke-width="1.0"/>
<line x1="455.37" y1="306.68" x2="455.37" y2="373.60" stroke="#767676" stroke-width="1.0"/>
<line x1="457.15" y1="306.68" x2="457.15" y2="365.60" stroke="#767676" stroke-width="1.0"/>
<line x1="454.87" y1="306.68" x2="457.65" y2="306.68" stroke="#666" stroke-width="1.0"/>
<line x1="456.26" y1="305.13" x2="456.26" y2="306.68" stroke="#666" stroke-width="1.0"/>
<line x1="453.09" y1="305.13" x2="456.76" y2="305.13" stroke="#666" stroke-width="1.0"/>
<line x1="454.92" y1="303.50" x2="454.92" y2="305.13" stroke="#666" stroke-width="1.0"/>
<line x1="449.98" y1="303.50" x2="455.42" y2="303.50" stroke="#666" stroke-width="1.0"/>
<line x1="452.70" y1="297.50" x2="452.70" y2="303.50" stroke="#666" stroke-width="1.0"/>
<line x1="458.92" y1="301.58" x2="458.92" y2="371.60" stroke="#767676" stroke-width="1.0"/>
<line x1="460.70" y1="301.58" x2="460.70" y2="371.00" stroke="#767676" stroke-width="1.0"/>
<line x1="458.42" y1="301.58" x2="461.20" y2="301.58" stroke="#666" stroke-width="1.0"/>
<line x1="459.81" y1="300.50" x2="459.81" y2="301.58" stroke="#666" stroke-width="1.0"/>
<line x1="462.48" y1="302.14" x2="462.48" y2="365.60" stroke="#767676" stroke-width="1.0"/>
<line x1="464.26" y1="302.14" x2="464.26" y2="368.30" stroke="#767676" stroke-width="1.0"/>
<line x1="461.98" y1="302.14" x2="464.76" y2="302.14" stroke="#666" stroke-width="1.0"/>
<line x1="463.37" y1="300.50" x2="463.37" y2="302.14" stroke="#666" stroke-width="1.0"/>
<line x1="459.31" y1="300.50" x2="463.87" y2="300.50" stroke="#666" stroke-width="1.0"/>
<line x1="461.59" y1="297.50" x2="461.59" y2="300.50" stroke="#666" stroke-width="1.0"/>
<line x1="466.03" y1="300.46" x2="466.03" y2="377.70" stroke="#767676" stroke-width="1.0"/>
<line x1="467.81" y1="300.46" x2="467.81" y2="366.20" stroke="#767676" stroke-width="1.0"/>
<line x1="465.53" y1="300.46" x2="468.31" y2="300.46" stroke="#666" stroke-width="1.0"/>
<line x1="466.92" y1="298.50" x2="466.92" y2="300.46" stroke="#666" stroke-width="1.0"/>
<line x1="469.59" y1="298.50" x2="469.59" y2="361.50" stroke="#767676" stroke-width="1.0"/>
<line x1="466.42" y1="298.50" x2="470.09" y2="298.50" stroke="#666" stroke-width="1.0"/>
<line x1="468.26" y1="297.50" x2="468.26" y2="298.50" stroke="#666" stroke-width="1.0"/>
<line x1="471.37" y1="303.15" x2="471.37" y2="374.30" stroke="#767676" stroke-width="1.0"/>
<line x1="473.14" y1="303.15" x2="473.14" y2="365.40" stroke="#767676" stroke-width="1.0"/>
<line x1="470.87" y1="303.15" x2="473.64" y2="303.15" stroke="#666" stroke-width="1.0"/>
<line x1="472.26" y1="302.00" x2="472.26" y2="303.15" stroke="#666" stroke-width="1.0"/>
<line x1="474.92" y1="306.71" x2="474.92" y2="362.20" stroke="#767676" stroke-width="1.0"/>
<line x1="476.70" y1="306.71" x2="476.70" y2="372.40" stroke="#767676" stroke-width="1.0"/>
<line x1="474.42" y1="306.71" x2="477.20" y2="306.71" stroke="#666" stroke-width="1.0"/>
<line x1="475.81" y1="305.01" x2="475.81" y2="306.71" stroke="#666" stroke-width="1.0"/>
<line x1="478.48" y1="305.01" x2="478.48" y2="362.20" stroke="#767676" stroke-width="1.0"/>
<line x1="475.31" y1="305.01" x2="478.98" y2="305.01" stroke="#666" stroke-width="1.0"/>
<line x1="477.14" y1="303.65" x2="477.14" y2="305.01" stroke="#666" stroke-width="1.0"/>
<line x1="480.25" y1="303.65" x2="480.25" y2="360.90" stroke="#767676" stroke-width="1.0"/>
<line x1="476.64" y1="303.65" x2="480.75" y2="303.65" stroke="#666" stroke-width="1.0"/>
<line x1="478.70" y1="302.00" x2="478.70" y2="303.65" stroke="#666" stroke-width="1.0"/>
<line x1="471.76" y1="302.00" x2="479.20" y2="302.00" stroke="#666" stroke-width="1.0"/>
<line x1="475.48" y1="297.50" x2="475.48" y2="302.00" stroke="#666" stroke-width="1.0"/>
<line x1="373.25" y1="297.50" x2="475.98" y2="297.50" stroke="#666" stroke-width="1.0"/>
<line x1="424.61" y1="230.20" x2="424.61" y2="297.50" stroke="#666" stroke-width="1.0"/>
<line x1="482.03" y1="230.20" x2="482.03" y2="349.40" stroke="#767676" stroke-width="1.0"/>
<line x1="424.11" y1="230.20" x2="482.53" y2="230.20" stroke="#666" stroke-width="1.0"/>
<line x1="453.32" y1="208.10" x2="453.32" y2="230.20" stroke="#666" stroke-width="1.0"/>
<line x1="483.81" y1="228.00" x2="483.81" y2="342.40" stroke="#767676" stroke-width="1.0"/>
<line x1="485.59" y1="228.00" x2="485.59" y2="350.70" stroke="#767676" stroke-width="1.0"/>
<line x1="483.31" y1="228.00" x2="486.09" y2="228.00" stroke="#666" stroke-width="1.0"/>
<line x1="484.70" y1="227.00" x2="484.70" y2="228.00" stroke="#666" stroke-width="1.0"/>
<line x1="487.36" y1="229.00" x2="487.36" y2="361.60" stroke="#767676" stroke-width="1.0"/>
<line x1="489.14" y1="229.00" x2="489.14" y2="358.40" stroke="#767676" stroke-width="1.0"/>
<line x1="486.86" y1="229.00" x2="489.64" y2="229.00" stroke="#666" stroke-width="1.0"/>
<line x1="488.25" y1="227.50" x2="488.25" y2="229.00" stroke="#666" stroke-width="1.0"/>
<line x1="490.92" y1="227.50" x2="490.92" y2="369.20" stroke="#767676" stroke-width="1.0"/>
<line x1="487.75" y1="227.50" x2="491.42" y2="227.50" stroke="#666" stroke-width="1.0"/>
<line x1="489.59" y1="227.00" x2="489.59" y2="227.50" stroke="#666" stroke-width="1.0"/>
<line x1="484.20" y1="227.00" x2="490.09" y2="227.00" stroke="#666" stroke-width="1.0"/>
<line x1="487.14" y1="208.10" x2="487.14" y2="227.00" stroke="#666" stroke-width="1.0"/>
<line x1="492.70" y1="212.20" x2="492.70" y2="346.90" stroke="#767676" stroke-width="1.0"/>
<line x1="494.48" y1="212.20" x2="494.48" y2="355.20" stroke="#767676" stroke-width="1.0"/>
<line x1="492.20" y1="212.20" x2="494.98" y2="212.20" stroke="#666" stroke-width="1.0"/>
<line x1="493.59" y1="210.00" x2="493.59" y2="212.20" stroke="#666" stroke-width="1.0"/>
<line x1="496.25" y1="210.00" x2="496.25" y2="345.60" stroke="#767676" stroke-width="1.0"/>
<line x1="493.09" y1="210.00" x2="496.75" y2="210.00" stroke="#666" stroke-width="1.0"/>
<line x1="494.92" y1="208.10" x2="494.92" y2="210.00" stroke="#666" stroke-width="1.0"/>
<line x1="498.03" y1="208.10" x2="498.03" y2="355.80" stroke="#767676" stroke-width="1.0"/>
<line x1="499.81" y1="231.50" x2="499.81" y2="360.90" stroke="#767676" stroke-width="1.0"/>
<line x1="501.59" y1="231.50" x2="501.59" y2="360.90" stroke="#767676" stroke-width="1.0"/>
<line x1="499.31" y1="231.50" x2="502.09" y2="231.50" stroke="#666" stroke-width="1.0"/>
<line x1="500.70" y1="208.10" x2="500.70" y2="231.50" stroke="#666" stroke-width="1.0"/>
<line x1="503.36" y1="221.70" x2="503.36" y2="334.10" stroke="#767676" stroke-width="1.0"/>
<line x1="505.14" y1="224.00" x2="505.14" y2="343.70" stroke="#767676" stroke-width="1.0"/>
<line x1="506.92" y1="224.00" x2="506.92" y2="357.70" stroke="#767676" stroke-width="1.0"/>
<line x1="504.64" y1="224.00" x2="507.42" y2="224.00" stroke="#666" stroke-width="1.0"/>
<line x1="506.03" y1="221.70" x2="506.03" y2="224.00" stroke="#666" stroke-width="1.0"/>
<line x1="502.86" y1="221.70" x2="506.53" y2="221.70" stroke="#666" stroke-width="1.0"/>
<line x1="504.70" y1="218.50" x2="504.70" y2="221.70" stroke="#666" stroke-width="1.0"/>
<line x1="508.70" y1="218.50" x2="508.70" y2="379.50" stroke="#767676" stroke-width="1.0"/>
<line x1="504.20" y1="218.50" x2="509.20" y2="218.50" stroke="#666" stroke-width="1.0"/>
<line x1="506.70" y1="208.10" x2="506.70" y2="218.50" stroke="#666" stroke-width="1.0"/>
<line x1="510.47" y1="208.10" x2="510.47" y2="329.60" stroke="#767676" stroke-width="1.0"/>
<line x1="452.82" y1="208.10" x2="510.97" y2="208.10" stroke="#666" stroke-width="1.0"/>
<line x1="487.80" y1="205.50" x2="513.00" y2="205.50" stroke="#444" stroke-width="1.0"/>
<line x1="41.90" y1="425.30" x2="113.00" y2="425.30" stroke="#dadada" stroke-width="1.0"/>
<line x1="41.40" y1="425.30" x2="58.50" y2="425.30" stroke="#b84a86" stroke-width="1.0"/>
<line x1="23.60" y1="436.40" x2="23.60" y2="461.30" stroke="#d8609c" stroke-width="1.0"/>
<line x1="28.10" y1="436.40" x2="28.10" y2="463.80" stroke="#d8609c" stroke-width="1.0"/>
<line x1="23.10" y1="436.40" x2="28.60" y2="436.40" stroke="#b84a86" stroke-width="1.0"/>
<line x1="25.85" y1="431.50" x2="25.85" y2="436.40" stroke="#b84a86" stroke-width="1.0"/>
<line x1="33.70" y1="436.40" x2="33.70" y2="463.80" stroke="#d8609c" stroke-width="1.0"/>
<line x1="38.70" y1="436.40" x2="38.70" y2="457.90" stroke="#d8609c" stroke-width="1.0"/>
<line x1="33.20" y1="436.40" x2="39.20" y2="436.40" stroke="#b84a86" stroke-width="1.0"/>
<line x1="36.20" y1="433.30" x2="36.20" y2="436.40" stroke="#b84a86" stroke-width="1.0"/>
<line x1="43.40" y1="433.30" x2="43.40" y2="455.90" stroke="#d8609c" stroke-width="1.0"/>
<line x1="35.70" y1="433.30" x2="43.90" y2="433.30" stroke="#b84a86" stroke-width="1.0"/>
<line x1="39.80" y1="431.50" x2="39.80" y2="433.30" stroke="#b84a86" stroke-width="1.0"/>
<line x1="25.35" y1="431.50" x2="40.30" y2="431.50" stroke="#b84a86" stroke-width="1.0"/>
<line x1="32.83" y1="429.40" x2="32.83" y2="431.50" stroke="#b84a86" stroke-width="1.0"/>
<line x1="48.70" y1="432.90" x2="48.70" y2="460.80" stroke="#d8609c" stroke-width="1.0"/>
<line x1="53.10" y1="432.90" x2="53.10" y2="460.40" stroke="#d8609c" stroke-width="1.0"/>
<line x1="48.20" y1="432.90" x2="53.60" y2="432.90" stroke="#b84a86" stroke-width="1.0"/>
<line x1="50.90" y1="429.40" x2="50.90" y2="432.90" stroke="#b84a86" stroke-width="1.0"/>
<line x1="32.33" y1="429.40" x2="51.40" y2="429.40" stroke="#b84a86" stroke-width="1.0"/>
<line x1="41.86" y1="425.30" x2="41.86" y2="429.40" stroke="#b84a86" stroke-width="1.0"/>
<line x1="58.50" y1="425.80" x2="58.50" y2="459.00" stroke="#9fd8a8" stroke-width="1.0"/>
<line x1="58.50" y1="426.50" x2="63.50" y2="426.50" stroke="#9fd8a8" stroke-width="1.0"/>
<line x1="63.50" y1="425.30" x2="63.50" y2="469.80" stroke="#dadada" stroke-width="1.0"/>
<line x1="68.50" y1="425.30" x2="68.50" y2="461.70" stroke="#dadada" stroke-width="1.0"/>
<line x1="73.50" y1="425.30" x2="73.50" y2="463.80" stroke="#7a7a88" stroke-width="1.0"/>
<line x1="78.50" y1="425.30" x2="78.50" y2="451.60" stroke="#dadada" stroke-width="1.0"/>
<line x1="83.30" y1="425.30" x2="83.30" y2="455.00" stroke="#dadada" stroke-width="1.0"/>
<line x1="88.50" y1="425.30" x2="88.50" y2="458.40" stroke="#7a7a88" stroke-width="1.0"/>
<line x1="100.60" y1="425.30" x2="100.60" y2="430.40" stroke="#dadada" stroke-width="1.0"/>
<line x1="93.50" y1="430.40" x2="103.30" y2="430.40" stroke="#dadada" stroke-width="1.0"/>
<line x1="103.30" y1="430.10" x2="108.60" y2="430.10" stroke="#7a7a88" stroke-width="1.0"/>
<line x1="93.50" y1="430.20" x2="93.50" y2="470.50" stroke="#dadada" stroke-width="1.0"/>
<line x1="98.30" y1="430.20" x2="98.30" y2="457.00" stroke="#dadada" stroke-width="1.0"/>
<line x1="103.30" y1="430.20" x2="103.30" y2="460.40" stroke="#dadada" stroke-width="1.0"/>
<line x1="108.60" y1="430.20" x2="108.60" y2="463.80" stroke="#7a7a88" stroke-width="1.0"/>
<line x1="123.50" y1="426.00" x2="268.30" y2="426.00" stroke="#dadada" stroke-width="1.0"/>
<line x1="123.50" y1="427.60" x2="134.30" y2="427.60" stroke="#b8b0c8" stroke-width="1.0"/>
<line x1="123.50" y1="427.00" x2="123.50" y2="486.10" stroke="#dadada" stroke-width="1.0"/>
<line x1="128.70" y1="427.00" x2="128.70" y2="488.50" stroke="#8a78ae" stroke-width="1.0"/>
<line x1="134.10" y1="427.00" x2="134.10" y2="489.30" stroke="#7cbce4" stroke-width="1.0"/>
<line x1="139.30" y1="427.00" x2="139.30" y2="486.00" stroke="#dadada" stroke-width="1.0"/>
<line x1="144.80" y1="427.60" x2="155.80" y2="427.60" stroke="#8a8aa0" stroke-width="1.0"/>
<line x1="144.80" y1="427.60" x2="144.80" y2="494.00" stroke="#8a78ae" stroke-width="1.0"/>
<line x1="155.80" y1="427.60" x2="155.80" y2="449.90" stroke="#7cbf7c" stroke-width="1.0"/>
<line x1="150.30" y1="449.90" x2="162.40" y2="449.90" stroke="#7cbf7c" stroke-width="1.0"/>
<line x1="150.30" y1="449.90" x2="150.30" y2="484.60" stroke="#9ad09a" stroke-width="1.0"/>
<line x1="162.40" y1="449.90" x2="162.40" y2="457.50" stroke="#7cbf7c" stroke-width="1.0"/>
<line x1="155.80" y1="457.50" x2="166.00" y2="457.50" stroke="#7cbf7c" stroke-width="1.0"/>
<line x1="155.80" y1="457.50" x2="155.80" y2="487.70" stroke="#b8d8b8" stroke-width="1.0"/>
<line x1="160.80" y1="457.50" x2="160.80" y2="487.70" stroke="#9ad09a" stroke-width="1.0"/>
<line x1="166.00" y1="457.50" x2="166.00" y2="484.60" stroke="#9ad09a" stroke-width="1.0"/>
<line x1="171.90" y1="427.10" x2="176.80" y2="427.10" stroke="#8a8aa0" stroke-width="1.0"/>
<line x1="171.90" y1="427.10" x2="171.90" y2="483.80" stroke="#8a78ae" stroke-width="1.0"/>
<line x1="177.10" y1="427.10" x2="177.10" y2="494.00" stroke="#f2bc62" stroke-width="1.0"/>
<line x1="182.60" y1="426.00" x2="182.60" y2="484.60" stroke="#dadada" stroke-width="1.0"/>
<line x1="188.40" y1="426.00" x2="188.40" y2="492.40" stroke="#8a78ae" stroke-width="1.0"/>
<line x1="193.60" y1="426.00" x2="193.60" y2="483.80" stroke="#dadada" stroke-width="1.0"/>
<line x1="201.50" y1="426.00" x2="201.50" y2="458.60" stroke="#dadada" stroke-width="1.0"/>
<line x1="199.10" y1="458.60" x2="203.90" y2="458.60" stroke="#dadada" stroke-width="1.0"/>
<line x1="199.10" y1="458.60" x2="199.10" y2="476.70" stroke="#dadada" stroke-width="1.0"/>
<line x1="203.90" y1="458.60" x2="203.90" y2="484.60" stroke="#dadada" stroke-width="1.0"/>
<line x1="209.40" y1="425.60" x2="214.90" y2="425.60" stroke="#7a7a88" stroke-width="1.0"/>
<line x1="209.40" y1="425.60" x2="209.40" y2="492.40" stroke="#7a7a88" stroke-width="1.0"/>
<line x1="214.90" y1="425.60" x2="214.90" y2="479.80" stroke="#dadada" stroke-width="1.0"/>
<line x1="220.40" y1="426.00" x2="220.40" y2="483.00" stroke="#dadada" stroke-width="1.0"/>
<line x1="225.50" y1="426.00" x2="225.50" y2="483.80" stroke="#8a78ae" stroke-width="1.0"/>
<line x1="231.00" y1="426.00" x2="231.00" y2="484.60" stroke="#dadada" stroke-width="1.0"/>
<line x1="236.30" y1="426.00" x2="236.30" y2="484.60" stroke="#dadada" stroke-width="1.0"/>
<line x1="241.50" y1="426.00" x2="241.50" y2="480.60" stroke="#dadada" stroke-width="1.0"/>
<line x1="241.50" y1="426.30" x2="249.40" y2="426.30" stroke="#7cbce4" stroke-width="1.0"/>
<line x1="249.40" y1="426.30" x2="249.40" y2="455.40" stroke="#7cbce4" stroke-width="1.0"/>
<line x1="247.80" y1="455.40" x2="252.60" y2="455.40" stroke="#7cbce4" stroke-width="1.0"/>
<line x1="247.80" y1="455.40" x2="247.80" y2="499.50" stroke="#7cbce4" stroke-width="1.0"/>
<line x1="252.60" y1="455.40" x2="252.60" y2="493.20" stroke="#7cbce4" stroke-width="1.0"/>
<line x1="258.10" y1="426.00" x2="258.10" y2="472.00" stroke="#dadada" stroke-width="1.0"/>
<line x1="262.80" y1="426.00" x2="262.80" y2="479.80" stroke="#dadada" stroke-width="1.0"/>
<line x1="279.70" y1="425.80" x2="420.20" y2="425.80" stroke="#dadada" stroke-width="1.0"/>
<line x1="279.70" y1="425.80" x2="279.70" y2="479.00" stroke="#dadada" stroke-width="1.0"/>
<line x1="283.20" y1="425.80" x2="283.20" y2="489.30" stroke="#dadada" stroke-width="1.0"/>
<line x1="287.90" y1="425.80" x2="287.90" y2="480.60" stroke="#dadada" stroke-width="1.0"/>
<line x1="291.50" y1="425.80" x2="291.50" y2="486.10" stroke="#e07aa0" stroke-width="1.0"/>
<line x1="295.50" y1="425.80" x2="295.50" y2="487.70" stroke="#dadada" stroke-width="1.0"/>
<line x1="299.40" y1="425.80" x2="299.40" y2="477.50" stroke="#dadada" stroke-width="1.0"/>
<line x1="304.10" y1="425.80" x2="304.10" y2="494.00" stroke="#6f7f9e" stroke-width="1.0"/>
<line x1="308.10" y1="425.80" x2="308.10" y2="480.60" stroke="#dadada" stroke-width="1.0"/>
<line x1="316.70" y1="425.80" x2="316.70" y2="481.40" stroke="#dadada" stroke-width="1.0"/>
<line x1="321.00" y1="425.80" x2="321.00" y2="487.70" stroke="#6f7f9e" stroke-width="1.0"/>
<line x1="325.40" y1="425.80" x2="325.40" y2="484.00" stroke="#dadada" stroke-width="1.0"/>
<line x1="329.40" y1="425.80" x2="329.40" y2="493.20" stroke="#6f7f9e" stroke-width="1.0"/>
<line x1="350.20" y1="425.80" x2="350.20" y2="482.20" stroke="#dadada" stroke-width="1.0"/>
<line x1="354.60" y1="425.80" x2="354.60" y2="487.70" stroke="#f2c4d2" stroke-width="1.0"/>
<line x1="358.90" y1="425.80" x2="358.90" y2="472.00" stroke="#dadada" stroke-width="1.0"/>
<line x1="363.10" y1="425.80" x2="363.10" y2="478.30" stroke="#86b6d6" stroke-width="1.0"/>
<line x1="367.20" y1="425.80" x2="367.20" y2="476.70" stroke="#dadada" stroke-width="1.0"/>
<line x1="371.50" y1="425.80" x2="371.50" y2="486.10" stroke="#dadada" stroke-width="1.0"/>
<line x1="375.70" y1="425.80" x2="375.70" y2="472.00" stroke="#dadada" stroke-width="1.0"/>
<line x1="380.40" y1="425.80" x2="380.40" y2="490.90" stroke="#dadada" stroke-width="1.0"/>
<line x1="384.60" y1="425.80" x2="384.60" y2="482.20" stroke="#dadada" stroke-width="1.0"/>
<line x1="388.70" y1="425.80" x2="388.70" y2="483.00" stroke="#dadada" stroke-width="1.0"/>
<line x1="393.00" y1="425.80" x2="393.00" y2="484.60" stroke="#c6dcec" stroke-width="1.0"/>
<line x1="401.60" y1="425.80" x2="401.60" y2="481.40" stroke="#dadada" stroke-width="1.0"/>
<line x1="406.00" y1="425.80" x2="406.00" y2="476.70" stroke="#dadada" stroke-width="1.0"/>
<line x1="410.30" y1="425.80" x2="410.30" y2="479.00" stroke="#dadada" stroke-width="1.0"/>
<line x1="308.10" y1="427.60" x2="312.80" y2="427.60" stroke="#6f7f9e" stroke-width="1.0"/>
<line x1="312.80" y1="427.60" x2="312.80" y2="488.50" stroke="#6f7f9e" stroke-width="1.0"/>
<line x1="333.70" y1="427.90" x2="337.30" y2="427.90" stroke="#6f7f9e" stroke-width="1.0"/>
<line x1="333.70" y1="427.90" x2="333.70" y2="484.60" stroke="#6f7f9e" stroke-width="1.0"/>
<line x1="337.30" y1="427.90" x2="337.30" y2="490.90" stroke="#a6d2ee" stroke-width="1.0"/>
<line x1="342.00" y1="427.90" x2="346.30" y2="427.90" stroke="#6f7f9e" stroke-width="1.0"/>
<line x1="342.00" y1="427.90" x2="342.00" y2="491.70" stroke="#a6d2ee" stroke-width="1.0"/>
<line x1="346.30" y1="427.90" x2="346.30" y2="487.70" stroke="#6f7f9e" stroke-width="1.0"/>
<line x1="396.90" y1="425.60" x2="413.90" y2="425.60" stroke="#6f7f9e" stroke-width="1.0"/>
<line x1="396.90" y1="425.60" x2="396.90" y2="487.70" stroke="#6f7f9e" stroke-width="1.0"/>
<line x1="413.90" y1="425.60" x2="413.90" y2="480.60" stroke="#6f7f9e" stroke-width="1.0"/>
<line x1="420.20" y1="425.80" x2="420.20" y2="444.40" stroke="#dadada" stroke-width="1.0"/>
<line x1="418.60" y1="444.40" x2="422.90" y2="444.40" stroke="#dadada" stroke-width="1.0"/>
<line x1="418.60" y1="444.40" x2="418.60" y2="489.30" stroke="#dadada" stroke-width="1.0"/>
<line x1="422.90" y1="444.40" x2="422.90" y2="488.50" stroke="#dadada" stroke-width="1.0"/>
<rect x="0.5" y="0.5" width="519" height="507" fill="none" stroke="#4a4a4a" stroke-width="1"/>
</svg>
</body></html>
